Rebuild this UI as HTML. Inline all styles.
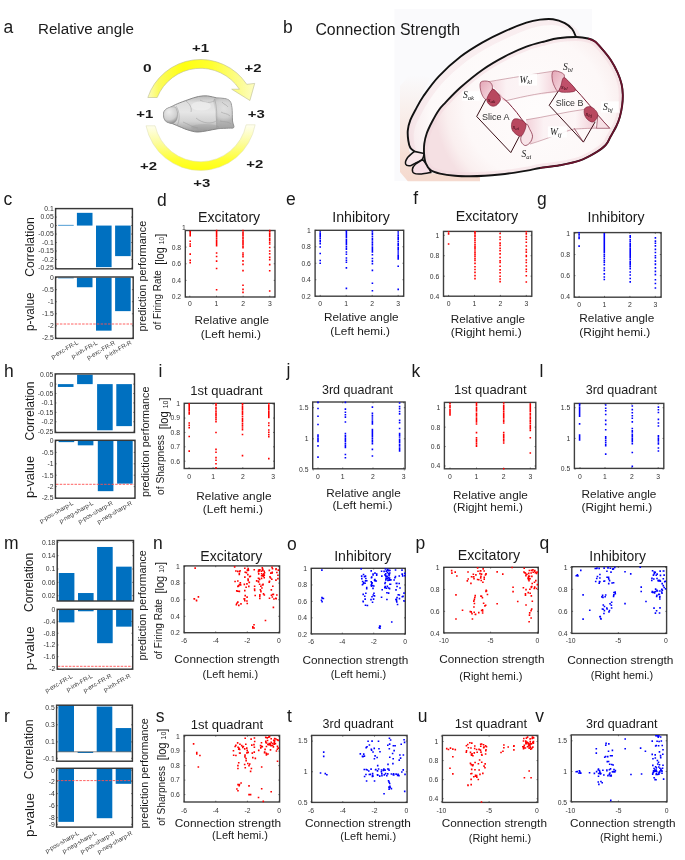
<!DOCTYPE html>
<html><head><meta charset="utf-8"><style>
html,body{margin:0;padding:0;background:#fff;}
body{width:685px;height:860px;overflow:hidden;}
svg{display:block;font-family:"Liberation Sans", sans-serif;will-change:transform;}
</style></head><body>
<svg width="685" height="860" viewBox="0 0 685 860" fill="#1a1a1a">
<rect x="58.10" y="224.89" width="15.60" height="0.68" fill="#0070c0"/>
<rect x="76.90" y="212.84" width="15.60" height="12.73" fill="#0070c0"/>
<rect x="96.00" y="225.57" width="15.60" height="41.58" fill="#0070c0"/>
<rect x="115.10" y="225.57" width="15.60" height="30.55" fill="#0070c0"/>
<rect x="55.60" y="208.60" width="76.80" height="60.20" fill="none" stroke="#383838" stroke-width="1.45"/>
<path d="M55.60 208.60h1.3M132.40 208.60h-1.3M55.60 217.09h1.3M132.40 217.09h-1.3M55.60 225.57h1.3M132.40 225.57h-1.3M55.60 234.06h1.3M132.40 234.06h-1.3M55.60 242.54h1.3M132.40 242.54h-1.3M55.60 251.03h1.3M132.40 251.03h-1.3M55.60 259.51h1.3M132.40 259.51h-1.3M55.60 268.00h1.3M132.40 268.00h-1.3" stroke="#2a2a2a" stroke-width="0.6" fill="none"/>
<text x="53.70" y="210.98" font-size="6.8" text-anchor="end" fill="#333">0.1</text>
<text x="53.70" y="219.47" font-size="6.8" text-anchor="end" fill="#333">0.05</text>
<text x="53.70" y="227.95" font-size="6.8" text-anchor="end" fill="#333">0</text>
<text x="53.70" y="236.44" font-size="6.8" text-anchor="end" fill="#333">-0.05</text>
<text x="53.70" y="244.92" font-size="6.8" text-anchor="end" fill="#333">-0.1</text>
<text x="53.70" y="253.41" font-size="6.8" text-anchor="end" fill="#333">-0.15</text>
<text x="53.70" y="261.89" font-size="6.8" text-anchor="end" fill="#333">-0.2</text>
<text x="53.70" y="270.38" font-size="6.8" text-anchor="end" fill="#333">-0.25</text>
<rect x="58.10" y="277.60" width="15.60" height="0.72" fill="#0070c0"/>
<rect x="76.90" y="277.60" width="15.60" height="9.65" fill="#0070c0"/>
<rect x="96.00" y="277.60" width="15.60" height="53.06" fill="#0070c0"/>
<rect x="115.10" y="277.60" width="15.60" height="33.53" fill="#0070c0"/>
<path d="M56.20 324.00H132.60" stroke="#ff5050" stroke-width="0.9" stroke-dasharray="2.5 1.2"/>
<rect x="55.60" y="277.00" width="77.60" height="61.40" fill="none" stroke="#383838" stroke-width="1.45"/>
<path d="M55.60 277.60h1.3M133.20 277.60h-1.3M55.60 289.66h1.3M133.20 289.66h-1.3M55.60 301.72h1.3M133.20 301.72h-1.3M55.60 313.78h1.3M133.20 313.78h-1.3M55.60 325.84h1.3M133.20 325.84h-1.3M55.60 337.90h1.3M133.20 337.90h-1.3" stroke="#2a2a2a" stroke-width="0.6" fill="none"/>
<text x="53.70" y="279.98" font-size="6.8" text-anchor="end" fill="#333">0</text>
<text x="53.70" y="292.04" font-size="6.8" text-anchor="end" fill="#333">-0.5</text>
<text x="53.70" y="304.10" font-size="6.8" text-anchor="end" fill="#333">-1</text>
<text x="53.70" y="316.16" font-size="6.8" text-anchor="end" fill="#333">-1.5</text>
<text x="53.70" y="328.22" font-size="6.8" text-anchor="end" fill="#333">-2</text>
<text x="53.70" y="340.28" font-size="6.8" text-anchor="end" fill="#333">-2.5</text>
<text x="78.80" y="343.70" font-size="6.1" text-anchor="end" fill="#333" transform="rotate(-30 78.80 343.70)">p-exc-FR-L</text>
<text x="98.00" y="344.10" font-size="6.1" text-anchor="end" fill="#333" transform="rotate(-30 98.00 344.10)">p-inh-FR-L</text>
<text x="115.60" y="344.10" font-size="6.1" text-anchor="end" fill="#333" transform="rotate(-30 115.60 344.10)">p-exc-FR-R</text>
<text x="132.20" y="343.70" font-size="6.1" text-anchor="end" fill="#333" transform="rotate(-30 132.20 343.70)">p-inh-FR-R</text>
<text x="34.20" y="247.00" font-size="12.5" text-anchor="middle" transform="rotate(-90 34.20 247.00)" textLength="59.5" lengthAdjust="spacingAndGlyphs">Correlation</text>
<text x="34.20" y="311.80" font-size="12.5" text-anchor="middle" transform="rotate(-90 34.20 311.80)" textLength="38.5" lengthAdjust="spacingAndGlyphs">p-value</text>
<rect x="57.90" y="384.12" width="15.60" height="2.82" fill="#0070c0"/>
<rect x="77.10" y="374.70" width="15.60" height="9.42" fill="#0070c0"/>
<rect x="97.10" y="384.12" width="15.60" height="46.14" fill="#0070c0"/>
<rect x="116.30" y="384.12" width="15.60" height="42.00" fill="#0070c0"/>
<rect x="55.20" y="373.90" width="79.30" height="58.60" fill="none" stroke="#383838" stroke-width="1.45"/>
<path d="M55.20 374.70h1.3M134.50 374.70h-1.3M55.20 384.12h1.3M134.50 384.12h-1.3M55.20 393.53h1.3M134.50 393.53h-1.3M55.20 402.95h1.3M134.50 402.95h-1.3M55.20 412.37h1.3M134.50 412.37h-1.3M55.20 421.78h1.3M134.50 421.78h-1.3M55.20 431.20h1.3M134.50 431.20h-1.3" stroke="#2a2a2a" stroke-width="0.6" fill="none"/>
<text x="53.30" y="377.08" font-size="6.8" text-anchor="end" fill="#333">0.05</text>
<text x="53.30" y="386.50" font-size="6.8" text-anchor="end" fill="#333">0</text>
<text x="53.30" y="395.91" font-size="6.8" text-anchor="end" fill="#333">-0.05</text>
<text x="53.30" y="405.33" font-size="6.8" text-anchor="end" fill="#333">-0.1</text>
<text x="53.30" y="414.75" font-size="6.8" text-anchor="end" fill="#333">-0.15</text>
<text x="53.30" y="424.16" font-size="6.8" text-anchor="end" fill="#333">-0.2</text>
<text x="53.30" y="433.58" font-size="6.8" text-anchor="end" fill="#333">-0.25</text>
<rect x="58.60" y="441.00" width="15.60" height="1.14" fill="#0070c0"/>
<rect x="77.80" y="441.00" width="15.60" height="4.33" fill="#0070c0"/>
<rect x="97.80" y="441.00" width="15.60" height="50.16" fill="#0070c0"/>
<rect x="117.10" y="441.00" width="15.60" height="42.64" fill="#0070c0"/>
<path d="M56.00 484.30H134.40" stroke="#ff5050" stroke-width="0.9" stroke-dasharray="2.5 1.2"/>
<rect x="55.40" y="440.30" width="79.60" height="57.90" fill="none" stroke="#383838" stroke-width="1.45"/>
<path d="M55.40 441.00h1.3M135.00 441.00h-1.3M55.40 452.40h1.3M135.00 452.40h-1.3M55.40 463.80h1.3M135.00 463.80h-1.3M55.40 475.20h1.3M135.00 475.20h-1.3M55.40 486.60h1.3M135.00 486.60h-1.3M55.40 498.00h1.3M135.00 498.00h-1.3" stroke="#2a2a2a" stroke-width="0.6" fill="none"/>
<text x="53.50" y="443.38" font-size="6.8" text-anchor="end" fill="#333">0</text>
<text x="53.50" y="454.78" font-size="6.8" text-anchor="end" fill="#333">-0.5</text>
<text x="53.50" y="466.18" font-size="6.8" text-anchor="end" fill="#333">-1</text>
<text x="53.50" y="477.58" font-size="6.8" text-anchor="end" fill="#333">-1.5</text>
<text x="53.50" y="488.98" font-size="6.8" text-anchor="end" fill="#333">-2</text>
<text x="53.50" y="500.38" font-size="6.8" text-anchor="end" fill="#333">-2.5</text>
<text x="73.80" y="504.30" font-size="6.1" text-anchor="end" fill="#333" transform="rotate(-30 73.80 504.30)">p-pos-sharp-L</text>
<text x="93.80" y="504.30" font-size="6.1" text-anchor="end" fill="#333" transform="rotate(-30 93.80 504.30)">p-neg-sharp-L</text>
<text x="113.30" y="504.30" font-size="6.1" text-anchor="end" fill="#333" transform="rotate(-30 113.30 504.30)">p-pos-sharp-R</text>
<text x="132.50" y="504.30" font-size="6.1" text-anchor="end" fill="#333" transform="rotate(-30 132.50 504.30)">p-neg-sharp-R</text>
<text x="33.60" y="411.00" font-size="12.5" text-anchor="middle" transform="rotate(-90 33.60 411.00)" textLength="59.0" lengthAdjust="spacingAndGlyphs">Correlation</text>
<text x="34.00" y="477.00" font-size="12.5" text-anchor="middle" transform="rotate(-90 34.00 477.00)" textLength="42.0" lengthAdjust="spacingAndGlyphs">p-value</text>
<rect x="58.80" y="573.00" width="15.60" height="28.00" fill="#0070c0"/>
<rect x="78.00" y="593.03" width="15.60" height="7.97" fill="#0070c0"/>
<rect x="97.10" y="546.97" width="15.60" height="54.03" fill="#0070c0"/>
<rect x="116.10" y="566.66" width="15.60" height="34.34" fill="#0070c0"/>
<rect x="57.20" y="540.50" width="76.30" height="60.50" fill="none" stroke="#383838" stroke-width="1.45"/>
<path d="M57.20 542.30h1.3M133.50 542.30h-1.3M57.20 555.65h1.3M133.50 555.65h-1.3M57.20 569.00h1.3M133.50 569.00h-1.3M57.20 582.35h1.3M133.50 582.35h-1.3M57.20 595.70h1.3M133.50 595.70h-1.3" stroke="#2a2a2a" stroke-width="0.6" fill="none"/>
<text x="55.30" y="544.68" font-size="6.8" text-anchor="end" fill="#333">0.18</text>
<text x="55.30" y="558.03" font-size="6.8" text-anchor="end" fill="#333">0.14</text>
<text x="55.30" y="571.38" font-size="6.8" text-anchor="end" fill="#333">0.1</text>
<text x="55.30" y="584.73" font-size="6.8" text-anchor="end" fill="#333">0.06</text>
<text x="55.30" y="598.08" font-size="6.8" text-anchor="end" fill="#333">0.02</text>
<rect x="58.80" y="609.80" width="15.60" height="12.60" fill="#0070c0"/>
<rect x="78.00" y="609.80" width="15.60" height="1.47" fill="#0070c0"/>
<rect x="97.10" y="609.80" width="15.60" height="33.40" fill="#0070c0"/>
<rect x="116.10" y="609.80" width="15.60" height="16.85" fill="#0070c0"/>
<path d="M57.80 666.30H132.10" stroke="#ff5050" stroke-width="0.9" stroke-dasharray="2.5 1.2"/>
<rect x="57.20" y="609.30" width="75.50" height="59.90" fill="none" stroke="#383838" stroke-width="1.45"/>
<path d="M57.20 609.80h1.3M132.70 609.80h-1.3M57.20 621.52h1.3M132.70 621.52h-1.3M57.20 633.24h1.3M132.70 633.24h-1.3M57.20 644.96h1.3M132.70 644.96h-1.3M57.20 656.68h1.3M132.70 656.68h-1.3M57.20 668.40h1.3M132.70 668.40h-1.3" stroke="#2a2a2a" stroke-width="0.6" fill="none"/>
<text x="55.30" y="612.18" font-size="6.8" text-anchor="end" fill="#333">0</text>
<text x="55.30" y="623.90" font-size="6.8" text-anchor="end" fill="#333">-0.4</text>
<text x="55.30" y="635.62" font-size="6.8" text-anchor="end" fill="#333">-0.8</text>
<text x="55.30" y="647.34" font-size="6.8" text-anchor="end" fill="#333">-1.2</text>
<text x="55.30" y="659.06" font-size="6.8" text-anchor="end" fill="#333">-1.6</text>
<text x="55.30" y="670.78" font-size="6.8" text-anchor="end" fill="#333">-2</text>
<text x="72.90" y="677.60" font-size="6.1" text-anchor="end" fill="#333" transform="rotate(-30 72.90 677.60)">p-exc-FR-L</text>
<text x="93.00" y="677.20" font-size="6.1" text-anchor="end" fill="#333" transform="rotate(-30 93.00 677.20)">p-inh-FR-L</text>
<text x="112.00" y="677.00" font-size="6.1" text-anchor="end" fill="#333" transform="rotate(-30 112.00 677.00)">p-exc-FR-R</text>
<text x="131.00" y="677.00" font-size="6.1" text-anchor="end" fill="#333" transform="rotate(-30 131.00 677.00)">p-inh-FR-R</text>
<text x="32.80" y="582.40" font-size="12.5" text-anchor="middle" transform="rotate(-90 32.80 582.40)" textLength="59.2" lengthAdjust="spacingAndGlyphs">Correlation</text>
<text x="33.60" y="648.30" font-size="12.5" text-anchor="middle" transform="rotate(-90 33.60 648.30)" textLength="43.9" lengthAdjust="spacingAndGlyphs">p-value</text>
<rect x="58.40" y="705.20" width="15.60" height="46.60" fill="#0070c0"/>
<rect x="77.60" y="751.80" width="15.60" height="1.16" fill="#0070c0"/>
<rect x="96.70" y="706.55" width="15.60" height="45.25" fill="#0070c0"/>
<rect x="115.70" y="728.06" width="15.60" height="23.74" fill="#0070c0"/>
<path d="M56.60 751.80H132.40" stroke="#555" stroke-width="0.7"/>
<rect x="56.60" y="705.20" width="75.80" height="56.00" fill="none" stroke="#383838" stroke-width="1.45"/>
<path d="M56.60 707.80h1.3M132.40 707.80h-1.3M56.60 724.80h1.3M132.40 724.80h-1.3M56.60 741.90h1.3M132.40 741.90h-1.3M56.60 758.30h1.3M132.40 758.30h-1.3" stroke="#2a2a2a" stroke-width="0.6" fill="none"/>
<text x="54.70" y="710.18" font-size="6.8" text-anchor="end" fill="#333">0.5</text>
<text x="54.70" y="727.18" font-size="6.8" text-anchor="end" fill="#333">0.3</text>
<text x="54.70" y="744.28" font-size="6.8" text-anchor="end" fill="#333">0.1</text>
<text x="54.70" y="760.68" font-size="6.8" text-anchor="end" fill="#333">-0.1</text>
<rect x="58.40" y="768.90" width="15.60" height="52.96" fill="#0070c0"/>
<rect x="96.70" y="768.90" width="15.60" height="49.31" fill="#0070c0"/>
<rect x="115.70" y="768.90" width="15.60" height="14.91" fill="#0070c0"/>
<path d="M57.20 780.60H131.80" stroke="#ff5050" stroke-width="0.9" stroke-dasharray="2.5 1.2"/>
<rect x="56.60" y="768.30" width="75.80" height="58.80" fill="none" stroke="#383838" stroke-width="1.45"/>
<path d="M56.60 770.20h1.3M132.40 770.20h-1.3M56.60 781.30h1.3M132.40 781.30h-1.3M56.60 793.60h1.3M132.40 793.60h-1.3M56.60 805.70h1.3M132.40 805.70h-1.3M56.60 817.60h1.3M132.40 817.60h-1.3M56.60 824.30h1.3M132.40 824.30h-1.3" stroke="#2a2a2a" stroke-width="0.6" fill="none"/>
<text x="54.70" y="772.58" font-size="6.8" text-anchor="end" fill="#333">0</text>
<text x="54.70" y="783.68" font-size="6.8" text-anchor="end" fill="#333">-2</text>
<text x="54.70" y="795.98" font-size="6.8" text-anchor="end" fill="#333">-4</text>
<text x="54.70" y="808.08" font-size="6.8" text-anchor="end" fill="#333">-6</text>
<text x="54.70" y="819.98" font-size="6.8" text-anchor="end" fill="#333">-8</text>
<text x="54.70" y="826.68" font-size="6.8" text-anchor="end" fill="#333">-9</text>
<text x="79.50" y="834.30" font-size="6.1" text-anchor="end" fill="#333" transform="rotate(-30 79.50 834.30)">p-pos-sharp-L</text>
<text x="97.00" y="834.30" font-size="6.1" text-anchor="end" fill="#333" transform="rotate(-30 97.00 834.30)">p-neg-sharp-L</text>
<text x="115.50" y="834.30" font-size="6.1" text-anchor="end" fill="#333" transform="rotate(-30 115.50 834.30)">p-pos-sharp-R</text>
<text x="132.90" y="834.30" font-size="6.1" text-anchor="end" fill="#333" transform="rotate(-30 132.90 834.30)">p-neg-sharp-R</text>
<text x="32.80" y="749.40" font-size="12.5" text-anchor="middle" transform="rotate(-90 32.80 749.40)" textLength="59.9" lengthAdjust="spacingAndGlyphs">Correlation</text>
<text x="34.20" y="815.00" font-size="12.5" text-anchor="middle" transform="rotate(-90 34.20 815.00)" textLength="44.1" lengthAdjust="spacingAndGlyphs">p-value</text>
<text x="146.40" y="276.10" font-size="11" text-anchor="middle" transform="rotate(-90 146.40 276.10)" textLength="110.6" lengthAdjust="spacingAndGlyphs">prediction performance</text>
<text x="160.90" y="281.80" font-size="11" text-anchor="middle" transform="rotate(-90 160.90 281.80)" textLength="96.3" lengthAdjust="spacingAndGlyphs" style="white-space:pre">of Firing Rate  <tspan dy="3.3" font-size="12">[log </tspan><tspan font-size="7.5">10</tspan><tspan font-size="12">]</tspan></text>
<text x="149.40" y="441.80" font-size="11" text-anchor="middle" transform="rotate(-90 149.40 441.80)" textLength="110.6" lengthAdjust="spacingAndGlyphs">prediction performance</text>
<text x="164.40" y="446.20" font-size="11" text-anchor="middle" transform="rotate(-90 164.40 446.20)" textLength="97.4" lengthAdjust="spacingAndGlyphs" style="white-space:pre">of Sharpness  <tspan dy="3.3" font-size="12">[log </tspan><tspan font-size="7.5">10</tspan><tspan font-size="12">]</tspan></text>
<text x="146.30" y="605.40" font-size="11" text-anchor="middle" transform="rotate(-90 146.30 605.40)" textLength="110.4" lengthAdjust="spacingAndGlyphs">prediction performance</text>
<text x="162.00" y="610.70" font-size="11" text-anchor="middle" transform="rotate(-90 162.00 610.70)" textLength="97.3" lengthAdjust="spacingAndGlyphs" style="white-space:pre">of Firing Rate  <tspan dy="2.5" font-size="12">[log </tspan><tspan font-size="7.5">10</tspan><tspan font-size="12">]</tspan></text>
<text x="148.00" y="773.30" font-size="11" text-anchor="middle" transform="rotate(-90 148.00 773.30)" textLength="110.3" lengthAdjust="spacingAndGlyphs">prediction performance</text>
<text x="165.30" y="777.20" font-size="11" text-anchor="middle" transform="rotate(-90 165.30 777.20)" textLength="97.2" lengthAdjust="spacingAndGlyphs" style="white-space:pre">of Sharpness  <tspan dy="0.3" font-size="12">[log </tspan><tspan font-size="7.5">10</tspan><tspan font-size="12">]</tspan></text>
<rect x="185.30" y="230.50" width="89.70" height="66.50" fill="none" stroke="#404040" stroke-width="1.4"/>
<path d="M189.80 297.00v-1.3M189.80 230.50v1.3M216.47 297.00v-1.3M216.47 230.50v1.3M243.14 297.00v-1.3M243.14 230.50v1.3M269.81 297.00v-1.3M269.81 230.50v1.3M185.30 247.12h1.3M275.00 247.12h-1.3M185.30 263.75h1.3M275.00 263.75h-1.3M185.30 280.38h1.3M275.00 280.38h-1.3M185.30 297.00h1.3M275.00 297.00h-1.3" stroke="#2a2a2a" stroke-width="0.6" fill="none"/>
<path d="M189.40 230.67h1.6v1.6h-1.6zM189.40 232.02h1.6v1.6h-1.6zM189.40 233.28h1.6v1.6h-1.6zM189.40 234.84h1.6v1.6h-1.6zM189.40 240.39h1.6v1.6h-1.6zM189.40 243.17h1.6v1.6h-1.6zM189.40 245.36h1.6v1.6h-1.6zM189.40 253.30h1.6v1.6h-1.6zM189.40 259.41h1.6v1.6h-1.6zM189.40 261.83h1.6v1.6h-1.6zM215.80 229.70h1.6v1.6h-1.6zM215.80 231.29h1.6v1.6h-1.6zM215.80 232.53h1.6v1.6h-1.6zM215.80 234.02h1.6v1.6h-1.6zM215.80 235.33h1.6v1.6h-1.6zM215.80 237.35h1.6v1.6h-1.6zM215.80 239.13h1.6v1.6h-1.6zM215.80 240.70h1.6v1.6h-1.6zM215.80 241.96h1.6v1.6h-1.6zM215.80 243.36h1.6v1.6h-1.6zM215.80 244.98h1.6v1.6h-1.6zM215.80 252.19h1.6v1.6h-1.6zM215.80 255.66h1.6v1.6h-1.6zM215.80 260.36h1.6v1.6h-1.6zM215.80 267.74h1.6v1.6h-1.6zM215.80 288.98h1.6v1.6h-1.6zM242.20 229.70h1.6v1.6h-1.6zM242.20 231.78h1.6v1.6h-1.6zM242.20 233.27h1.6v1.6h-1.6zM242.20 234.58h1.6v1.6h-1.6zM242.20 236.54h1.6v1.6h-1.6zM242.20 238.23h1.6v1.6h-1.6zM242.20 240.10h1.6v1.6h-1.6zM242.20 241.87h1.6v1.6h-1.6zM242.20 243.38h1.6v1.6h-1.6zM242.20 245.18h1.6v1.6h-1.6zM242.20 246.84h1.6v1.6h-1.6zM242.20 252.19h1.6v1.6h-1.6zM242.20 254.06h1.6v1.6h-1.6zM242.20 255.96h1.6v1.6h-1.6zM242.20 260.10h1.6v1.6h-1.6zM242.20 263.57h1.6v1.6h-1.6zM242.20 269.82h1.6v1.6h-1.6zM242.20 284.40h1.6v1.6h-1.6zM242.20 288.56h1.6v1.6h-1.6zM242.20 291.62h1.6v1.6h-1.6zM268.90 229.70h1.6v1.6h-1.6zM268.90 231.18h1.6v1.6h-1.6zM268.90 233.05h1.6v1.6h-1.6zM268.90 234.71h1.6v1.6h-1.6zM268.90 236.02h1.6v1.6h-1.6zM268.90 238.00h1.6v1.6h-1.6zM268.90 239.44h1.6v1.6h-1.6zM268.90 241.52h1.6v1.6h-1.6zM268.90 243.17h1.6v1.6h-1.6zM268.90 246.64h1.6v1.6h-1.6zM268.90 250.17h1.6v1.6h-1.6zM268.90 252.92h1.6v1.6h-1.6zM268.90 256.49h1.6v1.6h-1.6zM268.90 258.78h1.6v1.6h-1.6zM268.90 263.85h1.6v1.6h-1.6zM268.90 269.96h1.6v1.6h-1.6zM268.90 290.23h1.6v1.6h-1.6z" fill="#ff0000"/>
<text x="181.10" y="249.50" font-size="6.8" text-anchor="end" fill="#333">0.8</text>
<text x="181.10" y="266.13" font-size="6.8" text-anchor="end" fill="#333">0.6</text>
<text x="181.10" y="282.75" font-size="6.8" text-anchor="end" fill="#333">0.4</text>
<text x="181.10" y="299.38" font-size="6.8" text-anchor="end" fill="#333">0.2</text>
<text x="189.80" y="306.38" font-size="6.8" text-anchor="middle" fill="#333">0</text>
<text x="216.47" y="306.38" font-size="6.8" text-anchor="middle" fill="#333">1</text>
<text x="243.14" y="306.38" font-size="6.8" text-anchor="middle" fill="#333">2</text>
<text x="269.81" y="306.38" font-size="6.8" text-anchor="middle" fill="#333">3</text>
<text x="229.10" y="222.00" font-size="14" text-anchor="middle" textLength="62.2" lengthAdjust="spacingAndGlyphs">Excitatory</text>
<text x="231.80" y="323.80" font-size="11.8" text-anchor="middle" textLength="74.5" lengthAdjust="spacingAndGlyphs">Relative angle</text>
<text x="230.90" y="337.60" font-size="11.8" text-anchor="middle" textLength="60.4" lengthAdjust="spacingAndGlyphs">(Left hemi.)</text>
<text x="185.70" y="229.80" font-size="6.8" text-anchor="end" fill="#333">1</text>
<rect x="315.10" y="230.30" width="88.60" height="65.90" fill="none" stroke="#404040" stroke-width="1.4"/>
<path d="M320.20 296.20v-1.3M320.20 230.30v1.3M346.20 296.20v-1.3M346.20 230.30v1.3M372.20 296.20v-1.3M372.20 230.30v1.3M398.20 296.20v-1.3M398.20 230.30v1.3M315.10 230.30h1.3M403.70 230.30h-1.3M315.10 246.78h1.3M403.70 246.78h-1.3M315.10 263.25h1.3M403.70 263.25h-1.3M315.10 279.72h1.3M403.70 279.72h-1.3M315.10 296.20h1.3M403.70 296.20h-1.3" stroke="#2a2a2a" stroke-width="0.6" fill="none"/>
<path d="M319.40 231.21h1.6v1.6h-1.6zM319.40 232.89h1.6v1.6h-1.6zM319.40 234.35h1.6v1.6h-1.6zM319.40 235.97h1.6v1.6h-1.6zM319.40 237.74h1.6v1.6h-1.6zM319.40 239.63h1.6v1.6h-1.6zM319.40 240.70h1.6v1.6h-1.6zM319.40 242.83h1.6v1.6h-1.6zM319.40 246.22h1.6v1.6h-1.6zM319.40 252.67h1.6v1.6h-1.6zM319.40 259.70h1.6v1.6h-1.6zM319.40 262.42h1.6v1.6h-1.6zM345.60 230.26h1.6v1.6h-1.6zM345.60 231.52h1.6v1.6h-1.6zM345.60 232.87h1.6v1.6h-1.6zM345.60 234.12h1.6v1.6h-1.6zM345.60 235.46h1.6v1.6h-1.6zM345.60 237.02h1.6v1.6h-1.6zM345.60 239.10h1.6v1.6h-1.6zM345.60 240.45h1.6v1.6h-1.6zM345.60 241.99h1.6v1.6h-1.6zM345.60 243.31h1.6v1.6h-1.6zM345.60 245.51h1.6v1.6h-1.6zM345.60 247.19h1.6v1.6h-1.6zM345.60 248.49h1.6v1.6h-1.6zM345.60 251.15h1.6v1.6h-1.6zM345.60 253.46h1.6v1.6h-1.6zM345.60 257.15h1.6v1.6h-1.6zM345.60 259.43h1.6v1.6h-1.6zM345.60 261.51h1.6v1.6h-1.6zM345.60 267.10h1.6v1.6h-1.6zM345.60 287.61h1.6v1.6h-1.6zM371.60 230.26h1.6v1.6h-1.6zM371.60 232.16h1.6v1.6h-1.6zM371.60 233.72h1.6v1.6h-1.6zM371.60 235.70h1.6v1.6h-1.6zM371.60 237.69h1.6v1.6h-1.6zM371.60 239.10h1.6v1.6h-1.6zM371.60 241.30h1.6v1.6h-1.6zM371.60 243.31h1.6v1.6h-1.6zM371.60 245.25h1.6v1.6h-1.6zM371.60 246.97h1.6v1.6h-1.6zM371.60 248.19h1.6v1.6h-1.6zM371.60 249.67h1.6v1.6h-1.6zM371.60 251.15h1.6v1.6h-1.6zM371.60 253.96h1.6v1.6h-1.6zM371.60 257.71h1.6v1.6h-1.6zM371.60 260.37h1.6v1.6h-1.6zM371.60 262.80h1.6v1.6h-1.6zM371.60 269.57h1.6v1.6h-1.6zM371.60 282.49h1.6v1.6h-1.6zM371.60 289.93h1.6v1.6h-1.6zM397.40 231.21h1.6v1.6h-1.6zM397.40 233.21h1.6v1.6h-1.6zM397.40 235.08h1.6v1.6h-1.6zM397.40 237.07h1.6v1.6h-1.6zM397.40 238.74h1.6v1.6h-1.6zM397.40 240.74h1.6v1.6h-1.6zM397.40 242.75h1.6v1.6h-1.6zM397.40 244.34h1.6v1.6h-1.6zM397.40 246.50h1.6v1.6h-1.6zM397.40 247.86h1.6v1.6h-1.6zM397.40 249.20h1.6v1.6h-1.6zM397.40 251.22h1.6v1.6h-1.6zM397.40 253.25h1.6v1.6h-1.6zM397.40 255.11h1.6v1.6h-1.6zM397.40 256.86h1.6v1.6h-1.6zM397.40 258.06h1.6v1.6h-1.6zM397.40 265.39h1.6v1.6h-1.6zM397.40 288.56h1.6v1.6h-1.6z" fill="#0000ff"/>
<text x="310.90" y="232.68" font-size="6.8" text-anchor="end" fill="#333">1</text>
<text x="310.90" y="249.16" font-size="6.8" text-anchor="end" fill="#333">0.8</text>
<text x="310.90" y="265.63" font-size="6.8" text-anchor="end" fill="#333">0.6</text>
<text x="310.90" y="282.10" font-size="6.8" text-anchor="end" fill="#333">0.4</text>
<text x="310.90" y="298.58" font-size="6.8" text-anchor="end" fill="#333">0.2</text>
<text x="320.20" y="306.38" font-size="6.8" text-anchor="middle" fill="#333">0</text>
<text x="346.20" y="306.38" font-size="6.8" text-anchor="middle" fill="#333">1</text>
<text x="372.20" y="306.38" font-size="6.8" text-anchor="middle" fill="#333">2</text>
<text x="398.20" y="306.38" font-size="6.8" text-anchor="middle" fill="#333">3</text>
<text x="361.00" y="221.60" font-size="14" text-anchor="middle" textLength="57.5" lengthAdjust="spacingAndGlyphs">Inhibitory</text>
<text x="361.30" y="321.20" font-size="11.8" text-anchor="middle" textLength="74.6" lengthAdjust="spacingAndGlyphs">Relative angle</text>
<text x="360.20" y="334.60" font-size="11.8" text-anchor="middle" textLength="59.7" lengthAdjust="spacingAndGlyphs">(Left hemi.)</text>
<rect x="443.50" y="231.40" width="88.30" height="64.80" fill="none" stroke="#404040" stroke-width="1.4"/>
<path d="M448.60 296.20v-1.3M448.60 231.40v1.3M474.50 296.20v-1.3M474.50 231.40v1.3M500.40 296.20v-1.3M500.40 231.40v1.3M526.30 296.20v-1.3M526.30 231.40v1.3M443.50 235.30h1.3M531.80 235.30h-1.3M443.50 255.73h1.3M531.80 255.73h-1.3M443.50 276.17h1.3M531.80 276.17h-1.3M443.50 296.60h1.3M531.80 296.60h-1.3" stroke="#2a2a2a" stroke-width="0.6" fill="none"/>
<path d="M447.80 231.01h1.6v1.6h-1.6zM447.80 233.09h1.6v1.6h-1.6zM447.80 243.27h1.6v1.6h-1.6zM474.20 231.01h1.6v1.6h-1.6zM474.20 232.50h1.6v1.6h-1.6zM474.20 234.29h1.6v1.6h-1.6zM474.20 235.90h1.6v1.6h-1.6zM474.20 238.02h1.6v1.6h-1.6zM474.20 239.68h1.6v1.6h-1.6zM474.20 241.79h1.6v1.6h-1.6zM474.20 243.92h1.6v1.6h-1.6zM474.20 245.65h1.6v1.6h-1.6zM474.20 246.86h1.6v1.6h-1.6zM474.20 248.24h1.6v1.6h-1.6zM474.20 250.24h1.6v1.6h-1.6zM474.20 251.91h1.6v1.6h-1.6zM474.20 253.67h1.6v1.6h-1.6zM474.20 255.39h1.6v1.6h-1.6zM474.20 257.38h1.6v1.6h-1.6zM474.20 259.14h1.6v1.6h-1.6zM474.20 259.63h1.6v1.6h-1.6zM474.20 262.54h1.6v1.6h-1.6zM474.20 265.89h1.6v1.6h-1.6zM474.20 268.69h1.6v1.6h-1.6zM474.20 271.60h1.6v1.6h-1.6zM474.20 274.84h1.6v1.6h-1.6zM474.20 277.80h1.6v1.6h-1.6zM499.30 232.64h1.6v1.6h-1.6zM499.30 236.20h1.6v1.6h-1.6zM499.30 238.68h1.6v1.6h-1.6zM499.30 242.35h1.6v1.6h-1.6zM499.30 244.62h1.6v1.6h-1.6zM499.30 247.42h1.6v1.6h-1.6zM499.30 249.87h1.6v1.6h-1.6zM499.30 253.06h1.6v1.6h-1.6zM499.30 256.65h1.6v1.6h-1.6zM499.30 259.93h1.6v1.6h-1.6zM499.30 261.67h1.6v1.6h-1.6zM499.30 265.38h1.6v1.6h-1.6zM499.30 269.07h1.6v1.6h-1.6zM499.30 271.95h1.6v1.6h-1.6zM499.30 275.43h1.6v1.6h-1.6zM499.30 278.21h1.6v1.6h-1.6zM499.30 280.83h1.6v1.6h-1.6zM525.50 231.01h1.6v1.6h-1.6zM525.50 233.07h1.6v1.6h-1.6zM525.50 235.87h1.6v1.6h-1.6zM525.50 238.48h1.6v1.6h-1.6zM525.50 241.40h1.6v1.6h-1.6zM525.50 245.14h1.6v1.6h-1.6zM525.50 248.86h1.6v1.6h-1.6zM525.50 251.35h1.6v1.6h-1.6zM525.50 254.74h1.6v1.6h-1.6zM525.50 255.54h1.6v1.6h-1.6zM525.50 259.15h1.6v1.6h-1.6zM525.50 261.63h1.6v1.6h-1.6zM525.50 265.26h1.6v1.6h-1.6zM525.50 268.51h1.6v1.6h-1.6zM525.50 270.64h1.6v1.6h-1.6zM525.50 274.96h1.6v1.6h-1.6zM525.50 281.27h1.6v1.6h-1.6z" fill="#ff0000"/>
<text x="439.30" y="237.68" font-size="6.8" text-anchor="end" fill="#333">1</text>
<text x="439.30" y="258.11" font-size="6.8" text-anchor="end" fill="#333">0.8</text>
<text x="439.30" y="278.55" font-size="6.8" text-anchor="end" fill="#333">0.6</text>
<text x="439.30" y="298.98" font-size="6.8" text-anchor="end" fill="#333">0.4</text>
<text x="448.60" y="306.38" font-size="6.8" text-anchor="middle" fill="#333">0</text>
<text x="474.50" y="306.38" font-size="6.8" text-anchor="middle" fill="#333">1</text>
<text x="500.40" y="306.38" font-size="6.8" text-anchor="middle" fill="#333">2</text>
<text x="526.30" y="306.38" font-size="6.8" text-anchor="middle" fill="#333">3</text>
<text x="486.90" y="221.20" font-size="14" text-anchor="middle" textLength="62.5" lengthAdjust="spacingAndGlyphs">Excitatory</text>
<text x="487.90" y="322.70" font-size="11.8" text-anchor="middle" textLength="74.3" lengthAdjust="spacingAndGlyphs">Relative angle</text>
<text x="486.20" y="336.00" font-size="11.8" text-anchor="middle" textLength="70.9" lengthAdjust="spacingAndGlyphs">(Rigjht hemi.)</text>
<rect x="574.20" y="232.60" width="86.90" height="64.60" fill="none" stroke="#404040" stroke-width="1.4"/>
<path d="M579.10 297.20v-1.3M579.10 232.60v1.3M604.50 297.20v-1.3M604.50 232.60v1.3M629.90 297.20v-1.3M629.90 232.60v1.3M655.30 297.20v-1.3M655.30 232.60v1.3M574.20 233.40h1.3M661.10 233.40h-1.3M574.20 254.53h1.3M661.10 254.53h-1.3M574.20 275.67h1.3M661.10 275.67h-1.3M574.20 296.80h1.3M661.10 296.80h-1.3" stroke="#2a2a2a" stroke-width="0.6" fill="none"/>
<path d="M578.30 232.00h1.6v1.6h-1.6zM578.30 234.07h1.6v1.6h-1.6zM578.30 236.14h1.6v1.6h-1.6zM578.30 237.67h1.6v1.6h-1.6zM578.30 245.29h1.6v1.6h-1.6zM603.50 233.03h1.6v1.6h-1.6zM603.50 234.35h1.6v1.6h-1.6zM603.50 235.78h1.6v1.6h-1.6zM603.50 237.14h1.6v1.6h-1.6zM603.50 238.53h1.6v1.6h-1.6zM603.50 240.03h1.6v1.6h-1.6zM603.50 241.52h1.6v1.6h-1.6zM603.50 242.89h1.6v1.6h-1.6zM603.50 244.10h1.6v1.6h-1.6zM603.50 245.30h1.6v1.6h-1.6zM603.50 247.06h1.6v1.6h-1.6zM603.50 248.73h1.6v1.6h-1.6zM603.50 250.03h1.6v1.6h-1.6zM603.50 251.66h1.6v1.6h-1.6zM603.50 253.70h1.6v1.6h-1.6zM603.50 255.41h1.6v1.6h-1.6zM603.50 257.60h1.6v1.6h-1.6zM603.50 259.64h1.6v1.6h-1.6zM603.50 261.48h1.6v1.6h-1.6zM603.50 261.65h1.6v1.6h-1.6zM603.50 263.90h1.6v1.6h-1.6zM603.50 267.22h1.6v1.6h-1.6zM603.50 269.54h1.6v1.6h-1.6zM603.50 273.03h1.6v1.6h-1.6zM603.50 276.23h1.6v1.6h-1.6zM603.50 278.68h1.6v1.6h-1.6zM629.40 235.07h1.6v1.6h-1.6zM629.40 236.72h1.6v1.6h-1.6zM629.40 238.89h1.6v1.6h-1.6zM629.40 240.63h1.6v1.6h-1.6zM629.40 242.81h1.6v1.6h-1.6zM629.40 244.36h1.6v1.6h-1.6zM629.40 245.94h1.6v1.6h-1.6zM629.40 247.65h1.6v1.6h-1.6zM629.40 249.35h1.6v1.6h-1.6zM629.40 250.81h1.6v1.6h-1.6zM629.40 252.41h1.6v1.6h-1.6zM629.40 253.62h1.6v1.6h-1.6zM629.40 255.05h1.6v1.6h-1.6zM629.40 256.78h1.6v1.6h-1.6zM629.40 258.64h1.6v1.6h-1.6zM629.40 260.72h1.6v1.6h-1.6zM629.40 262.25h1.6v1.6h-1.6zM629.40 263.59h1.6v1.6h-1.6zM629.40 265.44h1.6v1.6h-1.6zM629.40 267.48h1.6v1.6h-1.6zM629.40 267.78h1.6v1.6h-1.6zM629.40 271.22h1.6v1.6h-1.6zM629.40 274.16h1.6v1.6h-1.6zM629.40 277.65h1.6v1.6h-1.6zM629.40 281.12h1.6v1.6h-1.6zM654.60 237.12h1.6v1.6h-1.6zM654.60 240.35h1.6v1.6h-1.6zM654.60 242.44h1.6v1.6h-1.6zM654.60 245.09h1.6v1.6h-1.6zM654.60 248.58h1.6v1.6h-1.6zM654.60 251.70h1.6v1.6h-1.6zM654.60 254.91h1.6v1.6h-1.6zM654.60 256.95h1.6v1.6h-1.6zM654.60 260.28h1.6v1.6h-1.6zM654.60 263.24h1.6v1.6h-1.6zM654.60 263.69h1.6v1.6h-1.6zM654.60 267.10h1.6v1.6h-1.6zM654.60 270.53h1.6v1.6h-1.6zM654.60 273.83h1.6v1.6h-1.6zM654.60 278.97h1.6v1.6h-1.6zM654.60 282.69h1.6v1.6h-1.6zM654.60 287.13h1.6v1.6h-1.6z" fill="#0000ff"/>
<text x="570.00" y="235.78" font-size="6.8" text-anchor="end" fill="#333">1</text>
<text x="570.00" y="256.91" font-size="6.8" text-anchor="end" fill="#333">0.8</text>
<text x="570.00" y="278.05" font-size="6.8" text-anchor="end" fill="#333">0.6</text>
<text x="570.00" y="299.18" font-size="6.8" text-anchor="end" fill="#333">0.4</text>
<text x="579.10" y="306.88" font-size="6.8" text-anchor="middle" fill="#333">0</text>
<text x="604.50" y="306.88" font-size="6.8" text-anchor="middle" fill="#333">1</text>
<text x="629.90" y="306.88" font-size="6.8" text-anchor="middle" fill="#333">2</text>
<text x="655.30" y="306.88" font-size="6.8" text-anchor="middle" fill="#333">3</text>
<text x="616.00" y="222.00" font-size="14" text-anchor="middle" textLength="57.0" lengthAdjust="spacingAndGlyphs">Inhibitory</text>
<text x="616.80" y="321.70" font-size="11.8" text-anchor="middle" textLength="75.0" lengthAdjust="spacingAndGlyphs">Relative angle</text>
<text x="614.80" y="336.00" font-size="11.8" text-anchor="middle" textLength="71.0" lengthAdjust="spacingAndGlyphs">(Rigjht hemi.)</text>
<rect x="184.20" y="403.30" width="90.10" height="65.20" fill="none" stroke="#404040" stroke-width="1.4"/>
<path d="M189.10 468.50v-1.3M189.10 403.30v1.3M213.10 468.50v-1.3M213.10 403.30v1.3M242.80 468.50v-1.3M242.80 403.30v1.3M273.10 468.50v-1.3M273.10 403.30v1.3M184.20 403.70h1.3M274.30 403.70h-1.3M184.20 418.07h1.3M274.30 418.07h-1.3M184.20 432.45h1.3M274.30 432.45h-1.3M184.20 446.82h1.3M274.30 446.82h-1.3M184.20 461.20h1.3M274.30 461.20h-1.3" stroke="#2a2a2a" stroke-width="0.6" fill="none"/>
<path d="M188.40 402.90h1.6v1.6h-1.6zM188.40 404.16h1.6v1.6h-1.6zM188.40 405.61h1.6v1.6h-1.6zM188.40 407.11h1.6v1.6h-1.6zM188.40 408.32h1.6v1.6h-1.6zM188.40 409.78h1.6v1.6h-1.6zM188.40 411.68h1.6v1.6h-1.6zM188.40 413.16h1.6v1.6h-1.6zM188.40 422.26h1.6v1.6h-1.6zM188.40 424.49h1.6v1.6h-1.6zM188.40 426.87h1.6v1.6h-1.6zM188.40 435.69h1.6v1.6h-1.6zM188.40 450.31h1.6v1.6h-1.6zM215.20 402.90h1.6v1.6h-1.6zM215.20 404.55h1.6v1.6h-1.6zM215.20 406.73h1.6v1.6h-1.6zM215.20 408.19h1.6v1.6h-1.6zM215.20 410.35h1.6v1.6h-1.6zM215.20 412.13h1.6v1.6h-1.6zM215.20 413.86h1.6v1.6h-1.6zM215.20 415.18h1.6v1.6h-1.6zM215.20 416.89h1.6v1.6h-1.6zM215.20 418.80h1.6v1.6h-1.6zM215.20 420.90h1.6v1.6h-1.6zM215.20 431.74h1.6v1.6h-1.6zM215.20 448.54h1.6v1.6h-1.6zM215.20 451.42h1.6v1.6h-1.6zM215.20 456.83h1.6v1.6h-1.6zM215.20 459.46h1.6v1.6h-1.6zM215.20 462.95h1.6v1.6h-1.6zM215.20 467.11h1.6v1.6h-1.6zM241.70 402.90h1.6v1.6h-1.6zM241.70 404.21h1.6v1.6h-1.6zM241.70 406.12h1.6v1.6h-1.6zM241.70 407.61h1.6v1.6h-1.6zM241.70 409.20h1.6v1.6h-1.6zM241.70 410.99h1.6v1.6h-1.6zM241.70 412.62h1.6v1.6h-1.6zM241.70 413.86h1.6v1.6h-1.6zM241.70 415.90h1.6v1.6h-1.6zM241.70 418.04h1.6v1.6h-1.6zM241.70 419.50h1.6v1.6h-1.6zM241.70 420.89h1.6v1.6h-1.6zM241.70 423.05h1.6v1.6h-1.6zM241.70 425.07h1.6v1.6h-1.6zM241.70 427.19h1.6v1.6h-1.6zM241.70 428.94h1.6v1.6h-1.6zM241.70 433.72h1.6v1.6h-1.6zM241.70 454.86h1.6v1.6h-1.6zM268.00 402.90h1.6v1.6h-1.6zM268.00 404.74h1.6v1.6h-1.6zM268.00 405.98h1.6v1.6h-1.6zM268.00 407.30h1.6v1.6h-1.6zM268.00 408.84h1.6v1.6h-1.6zM268.00 410.79h1.6v1.6h-1.6zM268.00 412.24h1.6v1.6h-1.6zM268.00 413.74h1.6v1.6h-1.6zM268.00 415.33h1.6v1.6h-1.6zM268.00 416.69h1.6v1.6h-1.6zM268.00 422.26h1.6v1.6h-1.6zM268.00 424.67h1.6v1.6h-1.6zM268.00 429.17h1.6v1.6h-1.6zM268.00 431.45h1.6v1.6h-1.6zM268.00 433.63h1.6v1.6h-1.6zM268.00 435.82h1.6v1.6h-1.6zM268.00 457.82h1.6v1.6h-1.6z" fill="#ff0000"/>
<text x="180.00" y="406.08" font-size="6.8" text-anchor="end" fill="#333">1</text>
<text x="180.00" y="420.45" font-size="6.8" text-anchor="end" fill="#333">0.9</text>
<text x="180.00" y="434.83" font-size="6.8" text-anchor="end" fill="#333">0.8</text>
<text x="180.00" y="449.20" font-size="6.8" text-anchor="end" fill="#333">0.7</text>
<text x="180.00" y="463.58" font-size="6.8" text-anchor="end" fill="#333">0.6</text>
<text x="189.10" y="478.98" font-size="6.8" text-anchor="middle" fill="#333">0</text>
<text x="213.10" y="478.98" font-size="6.8" text-anchor="middle" fill="#333">1</text>
<text x="242.80" y="478.98" font-size="6.8" text-anchor="middle" fill="#333">2</text>
<text x="273.10" y="478.98" font-size="6.8" text-anchor="middle" fill="#333">3</text>
<text x="226.40" y="395.40" font-size="13" text-anchor="middle" textLength="72.2" lengthAdjust="spacingAndGlyphs">1st quadrant</text>
<text x="233.90" y="499.90" font-size="11.8" text-anchor="middle" textLength="75.2" lengthAdjust="spacingAndGlyphs">Relative angle</text>
<text x="232.90" y="512.70" font-size="11.8" text-anchor="middle" textLength="60.2" lengthAdjust="spacingAndGlyphs">(Left hemi.)</text>
<rect x="312.70" y="402.00" width="92.40" height="66.80" fill="none" stroke="#404040" stroke-width="1.4"/>
<path d="M318.00 468.80v-1.3M318.00 402.00v1.3M342.70 468.80v-1.3M342.70 402.00v1.3M373.00 468.80v-1.3M373.00 402.00v1.3M403.60 468.80v-1.3M403.60 402.00v1.3M312.70 407.70h1.3M405.10 407.70h-1.3M312.70 438.80h1.3M405.10 438.80h-1.3M312.70 469.90h1.3M405.10 469.90h-1.3" stroke="#2a2a2a" stroke-width="0.6" fill="none"/>
<path d="M317.20 401.61h1.6v1.6h-1.6zM317.20 407.74h1.6v1.6h-1.6zM317.20 415.50h1.6v1.6h-1.6zM317.20 423.67h1.6v1.6h-1.6zM317.20 434.29h1.6v1.6h-1.6zM317.20 435.90h1.6v1.6h-1.6zM317.20 437.63h1.6v1.6h-1.6zM317.20 439.16h1.6v1.6h-1.6zM317.20 440.64h1.6v1.6h-1.6zM317.20 445.12h1.6v1.6h-1.6zM317.20 456.36h1.6v1.6h-1.6zM344.60 401.61h1.6v1.6h-1.6zM344.60 408.35h1.6v1.6h-1.6zM344.60 411.48h1.6v1.6h-1.6zM344.60 413.88h1.6v1.6h-1.6zM344.60 416.34h1.6v1.6h-1.6zM344.60 421.22h1.6v1.6h-1.6zM344.60 432.86h1.6v1.6h-1.6zM344.60 434.92h1.6v1.6h-1.6zM344.60 436.13h1.6v1.6h-1.6zM344.60 438.05h1.6v1.6h-1.6zM344.60 439.72h1.6v1.6h-1.6zM344.60 440.91h1.6v1.6h-1.6zM344.60 443.04h1.6v1.6h-1.6zM344.60 445.11h1.6v1.6h-1.6zM344.60 446.55h1.6v1.6h-1.6zM344.60 453.70h1.6v1.6h-1.6zM344.60 456.92h1.6v1.6h-1.6zM371.60 406.31h1.6v1.6h-1.6zM371.60 412.44h1.6v1.6h-1.6zM371.60 414.41h1.6v1.6h-1.6zM371.60 416.16h1.6v1.6h-1.6zM371.60 418.15h1.6v1.6h-1.6zM371.60 420.27h1.6v1.6h-1.6zM371.60 421.77h1.6v1.6h-1.6zM371.60 423.22h1.6v1.6h-1.6zM371.60 428.78h1.6v1.6h-1.6zM371.60 430.04h1.6v1.6h-1.6zM371.60 431.82h1.6v1.6h-1.6zM371.60 433.24h1.6v1.6h-1.6zM371.60 434.44h1.6v1.6h-1.6zM371.60 436.10h1.6v1.6h-1.6zM371.60 437.95h1.6v1.6h-1.6zM371.60 439.63h1.6v1.6h-1.6zM371.60 441.07h1.6v1.6h-1.6zM371.60 442.98h1.6v1.6h-1.6zM371.60 448.59h1.6v1.6h-1.6zM371.60 455.22h1.6v1.6h-1.6zM398.80 402.22h1.6v1.6h-1.6zM398.80 405.86h1.6v1.6h-1.6zM398.80 407.95h1.6v1.6h-1.6zM398.80 410.71h1.6v1.6h-1.6zM398.80 413.09h1.6v1.6h-1.6zM398.80 419.59h1.6v1.6h-1.6zM398.80 421.97h1.6v1.6h-1.6zM398.80 427.76h1.6v1.6h-1.6zM398.80 432.86h1.6v1.6h-1.6zM398.80 434.29h1.6v1.6h-1.6zM398.80 436.25h1.6v1.6h-1.6zM398.80 438.42h1.6v1.6h-1.6zM398.80 439.80h1.6v1.6h-1.6zM398.80 441.41h1.6v1.6h-1.6zM398.80 443.57h1.6v1.6h-1.6zM398.80 445.16h1.6v1.6h-1.6zM398.80 447.34h1.6v1.6h-1.6zM398.80 448.59h1.6v1.6h-1.6zM398.80 450.18h1.6v1.6h-1.6z" fill="#0000ff"/>
<text x="308.50" y="410.08" font-size="6.8" text-anchor="end" fill="#333">1.5</text>
<text x="308.50" y="441.18" font-size="6.8" text-anchor="end" fill="#333">1</text>
<text x="308.50" y="472.28" font-size="6.8" text-anchor="end" fill="#333">0.5</text>
<text x="318.00" y="478.98" font-size="6.8" text-anchor="middle" fill="#333">0</text>
<text x="342.70" y="478.98" font-size="6.8" text-anchor="middle" fill="#333">1</text>
<text x="373.00" y="478.98" font-size="6.8" text-anchor="middle" fill="#333">2</text>
<text x="403.60" y="478.98" font-size="6.8" text-anchor="middle" fill="#333">3</text>
<text x="357.50" y="394.40" font-size="13" text-anchor="middle" textLength="71.1" lengthAdjust="spacingAndGlyphs">3rd quadrant</text>
<text x="363.50" y="496.60" font-size="11.8" text-anchor="middle" textLength="74.5" lengthAdjust="spacingAndGlyphs">Relative angle</text>
<text x="362.50" y="509.40" font-size="11.8" text-anchor="middle" textLength="60.2" lengthAdjust="spacingAndGlyphs">(Left hemi.)</text>
<rect x="444.40" y="402.40" width="91.40" height="66.40" fill="none" stroke="#404040" stroke-width="1.4"/>
<path d="M450.00 468.80v-1.3M450.00 402.40v1.3M476.50 468.80v-1.3M476.50 402.40v1.3M503.70 468.80v-1.3M503.70 402.40v1.3M530.30 468.80v-1.3M530.30 402.40v1.3M444.40 407.70h1.3M535.80 407.70h-1.3M444.40 427.13h1.3M535.80 427.13h-1.3M444.40 446.57h1.3M535.80 446.57h-1.3M444.40 466.00h1.3M535.80 466.00h-1.3" stroke="#2a2a2a" stroke-width="0.6" fill="none"/>
<path d="M449.20 402.83h1.6v1.6h-1.6zM449.20 405.03h1.6v1.6h-1.6zM449.20 406.56h1.6v1.6h-1.6zM449.20 408.70h1.6v1.6h-1.6zM449.20 409.93h1.6v1.6h-1.6zM449.20 411.50h1.6v1.6h-1.6zM449.20 413.03h1.6v1.6h-1.6zM449.20 414.22h1.6v1.6h-1.6zM475.70 402.21h1.6v1.6h-1.6zM475.70 403.53h1.6v1.6h-1.6zM475.70 404.93h1.6v1.6h-1.6zM475.70 406.96h1.6v1.6h-1.6zM475.70 408.59h1.6v1.6h-1.6zM475.70 410.26h1.6v1.6h-1.6zM475.70 412.39h1.6v1.6h-1.6zM475.70 413.95h1.6v1.6h-1.6zM475.70 415.17h1.6v1.6h-1.6zM475.70 417.19h1.6v1.6h-1.6zM475.70 418.42h1.6v1.6h-1.6zM475.70 419.68h1.6v1.6h-1.6zM475.70 421.13h1.6v1.6h-1.6zM475.70 423.24h1.6v1.6h-1.6zM475.70 431.84h1.6v1.6h-1.6zM475.70 436.95h1.6v1.6h-1.6zM475.70 438.87h1.6v1.6h-1.6zM475.70 440.34h1.6v1.6h-1.6zM475.70 442.30h1.6v1.6h-1.6zM475.70 444.13h1.6v1.6h-1.6zM475.70 445.35h1.6v1.6h-1.6zM502.90 402.21h1.6v1.6h-1.6zM502.90 404.38h1.6v1.6h-1.6zM502.90 405.82h1.6v1.6h-1.6zM502.90 407.52h1.6v1.6h-1.6zM502.90 408.89h1.6v1.6h-1.6zM502.90 410.84h1.6v1.6h-1.6zM502.90 412.81h1.6v1.6h-1.6zM502.90 414.34h1.6v1.6h-1.6zM502.90 415.90h1.6v1.6h-1.6zM502.90 417.17h1.6v1.6h-1.6zM502.90 419.13h1.6v1.6h-1.6zM502.90 420.38h1.6v1.6h-1.6zM502.90 422.14h1.6v1.6h-1.6zM502.90 431.84h1.6v1.6h-1.6zM502.90 434.04h1.6v1.6h-1.6zM502.90 435.31h1.6v1.6h-1.6zM502.90 437.01h1.6v1.6h-1.6zM502.90 438.66h1.6v1.6h-1.6zM502.90 440.27h1.6v1.6h-1.6zM502.90 442.15h1.6v1.6h-1.6zM502.90 468.00h1.6v1.6h-1.6zM529.50 403.23h1.6v1.6h-1.6zM529.50 404.55h1.6v1.6h-1.6zM529.50 406.04h1.6v1.6h-1.6zM529.50 407.61h1.6v1.6h-1.6zM529.50 409.00h1.6v1.6h-1.6zM529.50 410.44h1.6v1.6h-1.6zM529.50 412.53h1.6v1.6h-1.6zM529.50 414.06h1.6v1.6h-1.6zM529.50 416.26h1.6v1.6h-1.6zM529.50 417.68h1.6v1.6h-1.6zM529.50 419.54h1.6v1.6h-1.6zM529.50 420.84h1.6v1.6h-1.6zM529.50 422.86h1.6v1.6h-1.6zM529.50 424.98h1.6v1.6h-1.6zM529.50 426.47h1.6v1.6h-1.6zM529.50 427.86h1.6v1.6h-1.6zM529.50 429.64h1.6v1.6h-1.6zM529.50 436.95h1.6v1.6h-1.6zM529.50 452.27h1.6v1.6h-1.6z" fill="#ff0000"/>
<text x="440.20" y="410.08" font-size="6.8" text-anchor="end" fill="#333">1</text>
<text x="440.20" y="429.51" font-size="6.8" text-anchor="end" fill="#333">0.8</text>
<text x="440.20" y="448.95" font-size="6.8" text-anchor="end" fill="#333">0.6</text>
<text x="440.20" y="468.38" font-size="6.8" text-anchor="end" fill="#333">0.4</text>
<text x="450.00" y="478.68" font-size="6.8" text-anchor="middle" fill="#333">0</text>
<text x="476.50" y="478.68" font-size="6.8" text-anchor="middle" fill="#333">1</text>
<text x="503.70" y="478.68" font-size="6.8" text-anchor="middle" fill="#333">2</text>
<text x="530.30" y="478.68" font-size="6.8" text-anchor="middle" fill="#333">3</text>
<text x="490.30" y="394.40" font-size="13" text-anchor="middle" textLength="72.6" lengthAdjust="spacingAndGlyphs">1st quadrant</text>
<text x="490.50" y="498.70" font-size="11.8" text-anchor="middle" textLength="74.8" lengthAdjust="spacingAndGlyphs">Relative angle</text>
<text x="488.00" y="511.00" font-size="11.8" text-anchor="middle" textLength="69.9" lengthAdjust="spacingAndGlyphs">(Rigjht hemi.)</text>
<rect x="574.40" y="403.40" width="89.40" height="65.00" fill="none" stroke="#404040" stroke-width="1.4"/>
<path d="M580.00 468.40v-1.3M580.00 403.40v1.3M605.00 468.40v-1.3M605.00 403.40v1.3M631.80 468.40v-1.3M631.80 403.40v1.3M658.20 468.40v-1.3M658.20 403.40v1.3M574.40 407.70h1.3M663.80 407.70h-1.3M574.40 438.40h1.3M663.80 438.40h-1.3M574.40 469.10h1.3M663.80 469.10h-1.3" stroke="#2a2a2a" stroke-width="0.6" fill="none"/>
<path d="M578.80 403.21h1.6v1.6h-1.6zM578.80 404.51h1.6v1.6h-1.6zM578.80 406.33h1.6v1.6h-1.6zM578.80 407.90h1.6v1.6h-1.6zM578.80 409.30h1.6v1.6h-1.6zM578.80 411.10h1.6v1.6h-1.6zM578.80 412.50h1.6v1.6h-1.6zM578.80 414.02h1.6v1.6h-1.6zM578.80 415.40h1.6v1.6h-1.6zM578.80 423.04h1.6v1.6h-1.6zM578.80 434.28h1.6v1.6h-1.6zM578.80 436.03h1.6v1.6h-1.6zM578.80 437.32h1.6v1.6h-1.6zM578.80 439.08h1.6v1.6h-1.6zM604.90 404.24h1.6v1.6h-1.6zM604.90 407.48h1.6v1.6h-1.6zM604.90 410.00h1.6v1.6h-1.6zM604.90 413.69h1.6v1.6h-1.6zM604.90 419.57h1.6v1.6h-1.6zM604.90 423.55h1.6v1.6h-1.6zM604.90 429.01h1.6v1.6h-1.6zM604.90 435.92h1.6v1.6h-1.6zM604.90 437.32h1.6v1.6h-1.6zM604.90 439.43h1.6v1.6h-1.6zM604.90 441.45h1.6v1.6h-1.6zM604.90 443.54h1.6v1.6h-1.6zM604.90 444.90h1.6v1.6h-1.6zM604.90 453.29h1.6v1.6h-1.6zM631.50 405.26h1.6v1.6h-1.6zM631.50 408.87h1.6v1.6h-1.6zM631.50 411.98h1.6v1.6h-1.6zM631.50 414.89h1.6v1.6h-1.6zM631.50 417.41h1.6v1.6h-1.6zM631.50 421.05h1.6v1.6h-1.6zM631.50 427.74h1.6v1.6h-1.6zM631.50 429.92h1.6v1.6h-1.6zM631.50 431.24h1.6v1.6h-1.6zM631.50 433.42h1.6v1.6h-1.6zM631.50 434.67h1.6v1.6h-1.6zM631.50 436.25h1.6v1.6h-1.6zM631.50 438.07h1.6v1.6h-1.6zM631.50 439.43h1.6v1.6h-1.6zM631.50 440.84h1.6v1.6h-1.6zM631.50 442.90h1.6v1.6h-1.6zM631.50 451.66h1.6v1.6h-1.6zM631.50 465.56h1.6v1.6h-1.6zM657.60 406.28h1.6v1.6h-1.6zM657.60 409.00h1.6v1.6h-1.6zM657.60 411.70h1.6v1.6h-1.6zM657.60 418.54h1.6v1.6h-1.6zM657.60 422.13h1.6v1.6h-1.6zM657.60 425.14h1.6v1.6h-1.6zM657.60 434.90h1.6v1.6h-1.6zM657.60 436.21h1.6v1.6h-1.6zM657.60 437.96h1.6v1.6h-1.6zM657.60 439.46h1.6v1.6h-1.6zM657.60 441.24h1.6v1.6h-1.6zM657.60 443.11h1.6v1.6h-1.6zM657.60 447.16h1.6v1.6h-1.6zM657.60 450.27h1.6v1.6h-1.6z" fill="#0000ff"/>
<text x="570.20" y="410.08" font-size="6.8" text-anchor="end" fill="#333">1.5</text>
<text x="570.20" y="440.78" font-size="6.8" text-anchor="end" fill="#333">1</text>
<text x="570.20" y="471.48" font-size="6.8" text-anchor="end" fill="#333">0.5</text>
<text x="580.00" y="478.68" font-size="6.8" text-anchor="middle" fill="#333">0</text>
<text x="605.00" y="478.68" font-size="6.8" text-anchor="middle" fill="#333">1</text>
<text x="631.80" y="478.68" font-size="6.8" text-anchor="middle" fill="#333">2</text>
<text x="658.20" y="478.68" font-size="6.8" text-anchor="middle" fill="#333">3</text>
<text x="621.30" y="393.80" font-size="13" text-anchor="middle" textLength="71.3" lengthAdjust="spacingAndGlyphs">3rd quadrant</text>
<text x="619.00" y="497.90" font-size="11.8" text-anchor="middle" textLength="74.9" lengthAdjust="spacingAndGlyphs">Relative angle</text>
<text x="616.90" y="511.00" font-size="11.8" text-anchor="middle" textLength="70.8" lengthAdjust="spacingAndGlyphs">(Rigjht hemi.)</text>
<rect x="184.10" y="565.90" width="95.50" height="66.80" fill="none" stroke="#404040" stroke-width="1.4"/>
<path d="M184.10 632.70v-1.3M184.10 565.90v1.3M215.70 632.70v-1.3M215.70 565.90v1.3M247.30 632.70v-1.3M247.30 565.90v1.3M278.90 632.70v-1.3M278.90 565.90v1.3M184.10 566.50h1.3M279.60 566.50h-1.3M184.10 583.10h1.3M279.60 583.10h-1.3M184.10 599.70h1.3M279.60 599.70h-1.3M184.10 616.30h1.3M279.60 616.30h-1.3M184.10 632.90h1.3M279.60 632.90h-1.3" stroke="#2a2a2a" stroke-width="0.6" fill="none"/>
<path d="M194.36 567.36h1.6v1.6h-1.6zM233.86 566.12h1.6v1.6h-1.6zM197.61 596.03h1.6v1.6h-1.6zM195.68 599.52h1.6v1.6h-1.6zM195.77 599.94h1.6v1.6h-1.6zM193.59 598.06h1.6v1.6h-1.6zM193.36 597.99h1.6v1.6h-1.6zM237.08 585.77h1.6v1.6h-1.6zM237.88 585.08h1.6v1.6h-1.6zM238.50 573.54h1.6v1.6h-1.6zM237.09 585.55h1.6v1.6h-1.6zM237.04 580.18h1.6v1.6h-1.6zM239.87 584.19h1.6v1.6h-1.6zM239.28 569.91h1.6v1.6h-1.6zM238.49 572.92h1.6v1.6h-1.6zM235.08 570.15h1.6v1.6h-1.6zM236.97 570.57h1.6v1.6h-1.6zM239.65 583.71h1.6v1.6h-1.6zM238.84 571.00h1.6v1.6h-1.6zM234.27 580.63h1.6v1.6h-1.6zM238.64 583.81h1.6v1.6h-1.6zM239.53 581.89h1.6v1.6h-1.6zM238.02 604.58h1.6v1.6h-1.6zM237.03 590.40h1.6v1.6h-1.6zM236.10 602.40h1.6v1.6h-1.6zM237.04 601.37h1.6v1.6h-1.6zM235.56 603.87h1.6v1.6h-1.6zM235.95 590.10h1.6v1.6h-1.6zM247.64 569.36h1.6v1.6h-1.6zM244.41 571.47h1.6v1.6h-1.6zM244.07 576.32h1.6v1.6h-1.6zM247.36 579.58h1.6v1.6h-1.6zM248.86 575.85h1.6v1.6h-1.6zM247.01 569.60h1.6v1.6h-1.6zM244.00 567.49h1.6v1.6h-1.6zM247.32 578.92h1.6v1.6h-1.6zM248.38 581.40h1.6v1.6h-1.6zM249.60 575.43h1.6v1.6h-1.6zM245.62 571.85h1.6v1.6h-1.6zM246.14 583.08h1.6v1.6h-1.6zM248.04 585.53h1.6v1.6h-1.6zM248.52 581.61h1.6v1.6h-1.6zM247.38 567.66h1.6v1.6h-1.6zM247.04 573.78h1.6v1.6h-1.6zM245.32 586.42h1.6v1.6h-1.6zM243.55 583.60h1.6v1.6h-1.6zM247.23 578.20h1.6v1.6h-1.6zM246.58 569.35h1.6v1.6h-1.6zM243.97 599.84h1.6v1.6h-1.6zM246.44 602.74h1.6v1.6h-1.6zM243.35 598.04h1.6v1.6h-1.6zM243.84 598.01h1.6v1.6h-1.6zM244.40 594.82h1.6v1.6h-1.6zM246.13 600.17h1.6v1.6h-1.6zM246.30 596.35h1.6v1.6h-1.6zM243.98 589.83h1.6v1.6h-1.6zM259.10 593.94h1.6v1.6h-1.6zM258.17 577.71h1.6v1.6h-1.6zM263.07 572.93h1.6v1.6h-1.6zM260.10 590.13h1.6v1.6h-1.6zM257.63 577.49h1.6v1.6h-1.6zM261.11 587.27h1.6v1.6h-1.6zM261.64 584.17h1.6v1.6h-1.6zM263.48 574.55h1.6v1.6h-1.6zM259.13 568.90h1.6v1.6h-1.6zM257.84 581.25h1.6v1.6h-1.6zM260.13 591.01h1.6v1.6h-1.6zM257.93 573.04h1.6v1.6h-1.6zM257.64 580.61h1.6v1.6h-1.6zM263.51 594.18h1.6v1.6h-1.6zM258.82 578.71h1.6v1.6h-1.6zM260.76 577.60h1.6v1.6h-1.6zM262.70 593.10h1.6v1.6h-1.6zM259.52 588.93h1.6v1.6h-1.6zM257.87 569.37h1.6v1.6h-1.6zM262.51 575.15h1.6v1.6h-1.6zM257.60 570.86h1.6v1.6h-1.6zM262.27 583.45h1.6v1.6h-1.6zM262.25 583.88h1.6v1.6h-1.6zM258.99 595.40h1.6v1.6h-1.6zM259.03 597.61h1.6v1.6h-1.6zM269.16 576.09h1.6v1.6h-1.6zM271.43 572.12h1.6v1.6h-1.6zM271.54 596.16h1.6v1.6h-1.6zM270.54 589.10h1.6v1.6h-1.6zM272.02 585.49h1.6v1.6h-1.6zM268.72 580.56h1.6v1.6h-1.6zM273.14 598.19h1.6v1.6h-1.6zM272.60 606.57h1.6v1.6h-1.6zM268.69 597.40h1.6v1.6h-1.6zM271.74 568.00h1.6v1.6h-1.6zM271.76 593.63h1.6v1.6h-1.6zM272.60 593.57h1.6v1.6h-1.6zM268.55 569.54h1.6v1.6h-1.6zM271.03 578.45h1.6v1.6h-1.6zM271.24 566.57h1.6v1.6h-1.6zM270.01 572.35h1.6v1.6h-1.6zM271.45 571.61h1.6v1.6h-1.6zM269.80 577.13h1.6v1.6h-1.6zM270.64 594.43h1.6v1.6h-1.6zM268.38 581.36h1.6v1.6h-1.6zM275.19 568.66h1.6v1.6h-1.6zM275.40 598.01h1.6v1.6h-1.6zM275.28 568.06h1.6v1.6h-1.6zM276.03 594.19h1.6v1.6h-1.6zM275.03 597.52h1.6v1.6h-1.6zM277.13 577.86h1.6v1.6h-1.6zM277.14 574.44h1.6v1.6h-1.6zM275.15 579.30h1.6v1.6h-1.6zM276.09 571.76h1.6v1.6h-1.6zM277.53 569.31h1.6v1.6h-1.6zM253.45 568.99h1.6v1.6h-1.6zM261.49 567.09h1.6v1.6h-1.6zM253.84 585.48h1.6v1.6h-1.6zM253.88 589.74h1.6v1.6h-1.6zM260.86 570.38h1.6v1.6h-1.6zM258.83 570.06h1.6v1.6h-1.6zM258.81 583.44h1.6v1.6h-1.6zM253.77 588.16h1.6v1.6h-1.6zM260.00 585.50h1.6v1.6h-1.6zM255.85 580.05h1.6v1.6h-1.6zM260.79 574.95h1.6v1.6h-1.6zM261.61 569.24h1.6v1.6h-1.6zM261.88 574.16h1.6v1.6h-1.6zM263.77 571.88h1.6v1.6h-1.6zM263.41 570.45h1.6v1.6h-1.6zM260.82 573.01h1.6v1.6h-1.6zM262.10 568.53h1.6v1.6h-1.6zM261.82 569.38h1.6v1.6h-1.6zM262.42 575.45h1.6v1.6h-1.6zM263.44 577.02h1.6v1.6h-1.6zM253.33 627.24h1.6v1.6h-1.6zM252.03 627.11h1.6v1.6h-1.6zM253.23 623.89h1.6v1.6h-1.6zM252.04 625.91h1.6v1.6h-1.6zM264.67 619.65h1.6v1.6h-1.6zM240.18 603.05h1.6v1.6h-1.6zM238.60 590.60h1.6v1.6h-1.6zM254.40 594.75h1.6v1.6h-1.6z" fill="#ff0000"/>
<text x="179.90" y="568.88" font-size="6.8" text-anchor="end" fill="#333">1</text>
<text x="179.90" y="585.48" font-size="6.8" text-anchor="end" fill="#333">0.8</text>
<text x="179.90" y="602.08" font-size="6.8" text-anchor="end" fill="#333">0.6</text>
<text x="179.90" y="618.68" font-size="6.8" text-anchor="end" fill="#333">0.4</text>
<text x="179.90" y="635.28" font-size="6.8" text-anchor="end" fill="#333">0.2</text>
<text x="184.10" y="643.48" font-size="6.8" text-anchor="middle" fill="#333">-6</text>
<text x="215.70" y="643.48" font-size="6.8" text-anchor="middle" fill="#333">-4</text>
<text x="247.30" y="643.48" font-size="6.8" text-anchor="middle" fill="#333">-2</text>
<text x="278.90" y="643.48" font-size="6.8" text-anchor="middle" fill="#333">0</text>
<text x="231.30" y="560.80" font-size="14" text-anchor="middle" textLength="62.0" lengthAdjust="spacingAndGlyphs">Excitatory</text>
<text x="227.00" y="663.00" font-size="11.8" text-anchor="middle" textLength="105.3" lengthAdjust="spacingAndGlyphs">Connection strength</text>
<text x="230.30" y="677.90" font-size="11.8" text-anchor="middle" textLength="55.6" lengthAdjust="spacingAndGlyphs">(Left hemi.)</text>
<rect x="311.30" y="568.30" width="94.00" height="65.60" fill="none" stroke="#404040" stroke-width="1.4"/>
<path d="M310.90 633.90v-1.3M310.90 568.30v1.3M342.30 633.90v-1.3M342.30 568.30v1.3M373.70 633.90v-1.3M373.70 568.30v1.3M405.10 633.90v-1.3M405.10 568.30v1.3M311.30 568.50h1.3M405.30 568.50h-1.3M311.30 584.95h1.3M405.30 584.95h-1.3M311.30 601.40h1.3M405.30 601.40h-1.3M311.30 617.85h1.3M405.30 617.85h-1.3M311.30 634.30h1.3M405.30 634.30h-1.3" stroke="#2a2a2a" stroke-width="0.6" fill="none"/>
<path d="M321.09 569.35h1.6v1.6h-1.6zM360.34 568.11h1.6v1.6h-1.6zM322.61 597.66h1.6v1.6h-1.6zM320.68 599.40h1.6v1.6h-1.6zM321.70 597.46h1.6v1.6h-1.6zM321.16 596.81h1.6v1.6h-1.6zM321.30 601.01h1.6v1.6h-1.6zM364.73 580.07h1.6v1.6h-1.6zM361.03 577.79h1.6v1.6h-1.6zM360.85 575.30h1.6v1.6h-1.6zM364.72 575.32h1.6v1.6h-1.6zM364.28 582.41h1.6v1.6h-1.6zM362.86 581.77h1.6v1.6h-1.6zM365.93 586.84h1.6v1.6h-1.6zM365.92 587.85h1.6v1.6h-1.6zM361.63 583.93h1.6v1.6h-1.6zM366.00 580.02h1.6v1.6h-1.6zM362.72 573.72h1.6v1.6h-1.6zM361.81 580.68h1.6v1.6h-1.6zM363.68 575.85h1.6v1.6h-1.6zM365.07 577.63h1.6v1.6h-1.6zM362.53 582.89h1.6v1.6h-1.6zM362.40 593.57h1.6v1.6h-1.6zM363.99 595.40h1.6v1.6h-1.6zM362.44 600.88h1.6v1.6h-1.6zM364.34 598.34h1.6v1.6h-1.6zM362.31 600.46h1.6v1.6h-1.6zM364.69 604.52h1.6v1.6h-1.6zM370.96 582.56h1.6v1.6h-1.6zM374.18 572.30h1.6v1.6h-1.6zM370.73 585.31h1.6v1.6h-1.6zM371.31 582.08h1.6v1.6h-1.6zM373.04 585.22h1.6v1.6h-1.6zM371.82 584.68h1.6v1.6h-1.6zM375.88 574.48h1.6v1.6h-1.6zM370.40 570.06h1.6v1.6h-1.6zM370.40 580.99h1.6v1.6h-1.6zM375.94 573.23h1.6v1.6h-1.6zM374.37 580.03h1.6v1.6h-1.6zM370.99 576.19h1.6v1.6h-1.6zM370.43 584.36h1.6v1.6h-1.6zM372.20 587.62h1.6v1.6h-1.6zM372.27 573.30h1.6v1.6h-1.6zM374.11 578.79h1.6v1.6h-1.6zM373.73 579.50h1.6v1.6h-1.6zM370.65 576.84h1.6v1.6h-1.6zM372.30 574.25h1.6v1.6h-1.6zM375.46 580.13h1.6v1.6h-1.6zM372.46 594.24h1.6v1.6h-1.6zM371.74 601.52h1.6v1.6h-1.6zM373.16 592.41h1.6v1.6h-1.6zM373.41 594.92h1.6v1.6h-1.6zM373.78 595.21h1.6v1.6h-1.6zM372.78 598.37h1.6v1.6h-1.6zM371.23 595.93h1.6v1.6h-1.6zM370.22 598.85h1.6v1.6h-1.6zM388.80 577.14h1.6v1.6h-1.6zM387.84 592.37h1.6v1.6h-1.6zM386.55 585.62h1.6v1.6h-1.6zM387.79 587.13h1.6v1.6h-1.6zM388.13 570.00h1.6v1.6h-1.6zM385.04 579.07h1.6v1.6h-1.6zM388.78 587.81h1.6v1.6h-1.6zM386.97 568.54h1.6v1.6h-1.6zM384.13 582.72h1.6v1.6h-1.6zM384.90 574.88h1.6v1.6h-1.6zM389.80 583.52h1.6v1.6h-1.6zM384.52 581.70h1.6v1.6h-1.6zM387.29 577.00h1.6v1.6h-1.6zM387.11 579.57h1.6v1.6h-1.6zM389.10 583.44h1.6v1.6h-1.6zM386.47 569.41h1.6v1.6h-1.6zM385.21 578.08h1.6v1.6h-1.6zM386.35 575.51h1.6v1.6h-1.6zM384.66 568.21h1.6v1.6h-1.6zM386.12 598.74h1.6v1.6h-1.6zM385.61 587.45h1.6v1.6h-1.6zM383.97 586.83h1.6v1.6h-1.6zM386.53 577.63h1.6v1.6h-1.6zM386.10 591.88h1.6v1.6h-1.6zM385.30 576.21h1.6v1.6h-1.6zM399.21 587.15h1.6v1.6h-1.6zM394.68 575.86h1.6v1.6h-1.6zM395.77 600.11h1.6v1.6h-1.6zM394.12 576.89h1.6v1.6h-1.6zM398.39 582.74h1.6v1.6h-1.6zM396.26 585.71h1.6v1.6h-1.6zM394.73 569.19h1.6v1.6h-1.6zM395.53 582.55h1.6v1.6h-1.6zM398.45 575.26h1.6v1.6h-1.6zM396.25 596.72h1.6v1.6h-1.6zM396.75 603.68h1.6v1.6h-1.6zM398.55 594.24h1.6v1.6h-1.6zM398.65 597.83h1.6v1.6h-1.6zM395.67 598.40h1.6v1.6h-1.6zM395.99 601.18h1.6v1.6h-1.6zM393.33 579.14h1.6v1.6h-1.6zM395.08 598.75h1.6v1.6h-1.6zM395.21 589.10h1.6v1.6h-1.6zM396.00 582.62h1.6v1.6h-1.6zM397.45 593.92h1.6v1.6h-1.6zM404.08 572.49h1.6v1.6h-1.6zM401.34 573.36h1.6v1.6h-1.6zM404.00 574.81h1.6v1.6h-1.6zM401.60 573.25h1.6v1.6h-1.6zM403.15 600.11h1.6v1.6h-1.6zM401.20 569.29h1.6v1.6h-1.6zM403.22 592.37h1.6v1.6h-1.6zM401.48 595.90h1.6v1.6h-1.6zM401.89 575.06h1.6v1.6h-1.6zM402.25 595.58h1.6v1.6h-1.6zM387.70 572.84h1.6v1.6h-1.6zM380.76 570.39h1.6v1.6h-1.6zM384.91 573.10h1.6v1.6h-1.6zM385.48 570.32h1.6v1.6h-1.6zM386.60 571.68h1.6v1.6h-1.6zM381.04 575.28h1.6v1.6h-1.6zM384.18 574.07h1.6v1.6h-1.6zM383.31 570.59h1.6v1.6h-1.6zM384.41 585.85h1.6v1.6h-1.6zM381.39 588.94h1.6v1.6h-1.6zM388.58 579.32h1.6v1.6h-1.6zM388.50 578.26h1.6v1.6h-1.6zM388.57 573.89h1.6v1.6h-1.6zM388.72 569.39h1.6v1.6h-1.6zM387.05 569.66h1.6v1.6h-1.6zM388.50 573.10h1.6v1.6h-1.6zM389.12 569.67h1.6v1.6h-1.6zM388.21 574.87h1.6v1.6h-1.6zM390.05 579.11h1.6v1.6h-1.6zM389.03 572.19h1.6v1.6h-1.6zM378.44 626.88h1.6v1.6h-1.6zM379.47 625.56h1.6v1.6h-1.6zM378.91 625.35h1.6v1.6h-1.6zM379.20 627.39h1.6v1.6h-1.6zM390.95 621.16h1.6v1.6h-1.6zM366.62 604.71h1.6v1.6h-1.6zM365.05 592.38h1.6v1.6h-1.6zM380.75 596.49h1.6v1.6h-1.6z" fill="#0000ff"/>
<text x="307.10" y="570.88" font-size="6.8" text-anchor="end" fill="#333">1</text>
<text x="307.10" y="587.33" font-size="6.8" text-anchor="end" fill="#333">0.8</text>
<text x="307.10" y="603.78" font-size="6.8" text-anchor="end" fill="#333">0.6</text>
<text x="307.10" y="620.23" font-size="6.8" text-anchor="end" fill="#333">0.4</text>
<text x="307.10" y="636.68" font-size="6.8" text-anchor="end" fill="#333">0.2</text>
<text x="310.90" y="644.28" font-size="6.8" text-anchor="middle" fill="#333">-6</text>
<text x="342.30" y="644.28" font-size="6.8" text-anchor="middle" fill="#333">-4</text>
<text x="373.70" y="644.28" font-size="6.8" text-anchor="middle" fill="#333">-2</text>
<text x="405.10" y="644.28" font-size="6.8" text-anchor="middle" fill="#333">0</text>
<text x="362.80" y="560.80" font-size="14" text-anchor="middle" textLength="57.2" lengthAdjust="spacingAndGlyphs">Inhibitory</text>
<text x="355.40" y="663.60" font-size="11.8" text-anchor="middle" textLength="105.8" lengthAdjust="spacingAndGlyphs">Connection strength</text>
<text x="358.50" y="678.30" font-size="11.8" text-anchor="middle" textLength="55.6" lengthAdjust="spacingAndGlyphs">(Left hemi.)</text>
<rect x="443.80" y="567.30" width="94.50" height="65.60" fill="none" stroke="#404040" stroke-width="1.4"/>
<path d="M443.80 632.90v-1.3M443.80 567.30v1.3M490.60 632.90v-1.3M490.60 567.30v1.3M537.40 632.90v-1.3M537.40 567.30v1.3M443.80 567.50h1.3M538.30 567.50h-1.3M443.80 589.43h1.3M538.30 589.43h-1.3M443.80 611.37h1.3M538.30 611.37h-1.3M443.80 633.30h1.3M538.30 633.30h-1.3" stroke="#2a2a2a" stroke-width="0.6" fill="none"/>
<path d="M456.08 575.25h1.6v1.6h-1.6zM454.40 571.36h1.6v1.6h-1.6zM450.85 569.80h1.6v1.6h-1.6zM451.11 572.35h1.6v1.6h-1.6zM455.17 594.12h1.6v1.6h-1.6zM455.17 618.24h1.6v1.6h-1.6zM461.72 609.47h1.6v1.6h-1.6zM477.22 570.47h1.6v1.6h-1.6zM470.74 575.99h1.6v1.6h-1.6zM475.10 574.04h1.6v1.6h-1.6zM483.42 578.33h1.6v1.6h-1.6zM483.44 576.51h1.6v1.6h-1.6zM476.77 578.68h1.6v1.6h-1.6zM476.83 567.11h1.6v1.6h-1.6zM479.88 570.12h1.6v1.6h-1.6zM473.21 577.93h1.6v1.6h-1.6zM472.56 573.50h1.6v1.6h-1.6zM479.47 570.25h1.6v1.6h-1.6zM467.22 571.26h1.6v1.6h-1.6zM484.64 574.18h1.6v1.6h-1.6zM467.42 578.21h1.6v1.6h-1.6zM466.53 580.03h1.6v1.6h-1.6zM485.37 573.14h1.6v1.6h-1.6zM479.95 570.17h1.6v1.6h-1.6zM485.14 573.09h1.6v1.6h-1.6zM479.10 572.84h1.6v1.6h-1.6zM480.74 573.34h1.6v1.6h-1.6zM480.42 579.65h1.6v1.6h-1.6zM480.13 575.62h1.6v1.6h-1.6zM482.10 581.48h1.6v1.6h-1.6zM470.13 582.54h1.6v1.6h-1.6zM482.35 568.11h1.6v1.6h-1.6zM479.90 577.08h1.6v1.6h-1.6zM483.34 570.21h1.6v1.6h-1.6zM477.97 578.91h1.6v1.6h-1.6zM472.62 576.21h1.6v1.6h-1.6zM472.96 576.07h1.6v1.6h-1.6zM480.76 595.42h1.6v1.6h-1.6zM473.62 602.65h1.6v1.6h-1.6zM473.43 611.51h1.6v1.6h-1.6zM482.81 602.50h1.6v1.6h-1.6zM484.13 605.04h1.6v1.6h-1.6zM473.12 606.21h1.6v1.6h-1.6zM480.16 595.35h1.6v1.6h-1.6zM484.89 604.47h1.6v1.6h-1.6zM477.97 611.84h1.6v1.6h-1.6zM480.79 609.67h1.6v1.6h-1.6zM474.80 613.55h1.6v1.6h-1.6zM473.01 600.36h1.6v1.6h-1.6zM474.43 594.78h1.6v1.6h-1.6zM474.02 596.69h1.6v1.6h-1.6zM474.52 613.51h1.6v1.6h-1.6zM481.71 609.07h1.6v1.6h-1.6zM481.88 610.16h1.6v1.6h-1.6zM473.56 598.58h1.6v1.6h-1.6zM481.63 596.97h1.6v1.6h-1.6zM481.83 612.19h1.6v1.6h-1.6zM471.21 612.80h1.6v1.6h-1.6zM470.43 611.09h1.6v1.6h-1.6zM469.46 610.84h1.6v1.6h-1.6zM471.63 618.16h1.6v1.6h-1.6zM485.15 590.55h1.6v1.6h-1.6zM486.65 593.68h1.6v1.6h-1.6zM485.70 590.12h1.6v1.6h-1.6zM485.43 589.40h1.6v1.6h-1.6zM496.35 571.09h1.6v1.6h-1.6zM501.97 573.28h1.6v1.6h-1.6zM496.35 602.89h1.6v1.6h-1.6zM512.26 590.83h1.6v1.6h-1.6zM512.26 586.44h1.6v1.6h-1.6zM516.94 600.70h1.6v1.6h-1.6zM511.33 566.70h1.6v1.6h-1.6zM529.39 592.48h1.6v1.6h-1.6zM527.72 578.35h1.6v1.6h-1.6zM528.72 575.56h1.6v1.6h-1.6zM524.59 572.26h1.6v1.6h-1.6zM527.66 576.44h1.6v1.6h-1.6zM531.40 582.66h1.6v1.6h-1.6zM527.98 572.56h1.6v1.6h-1.6zM535.83 572.60h1.6v1.6h-1.6zM530.52 586.10h1.6v1.6h-1.6zM523.41 567.41h1.6v1.6h-1.6zM532.43 571.43h1.6v1.6h-1.6zM527.22 577.51h1.6v1.6h-1.6zM536.28 571.33h1.6v1.6h-1.6zM531.00 585.66h1.6v1.6h-1.6zM528.58 569.77h1.6v1.6h-1.6zM527.85 575.34h1.6v1.6h-1.6zM531.01 569.55h1.6v1.6h-1.6zM533.90 586.35h1.6v1.6h-1.6zM522.58 586.90h1.6v1.6h-1.6zM528.49 578.03h1.6v1.6h-1.6zM534.02 569.79h1.6v1.6h-1.6zM523.15 571.27h1.6v1.6h-1.6zM533.96 570.34h1.6v1.6h-1.6zM530.59 586.61h1.6v1.6h-1.6zM534.51 571.99h1.6v1.6h-1.6zM532.17 569.06h1.6v1.6h-1.6zM527.43 591.78h1.6v1.6h-1.6zM530.33 572.25h1.6v1.6h-1.6zM525.37 573.55h1.6v1.6h-1.6zM535.64 587.70h1.6v1.6h-1.6zM531.08 575.54h1.6v1.6h-1.6zM529.09 588.45h1.6v1.6h-1.6zM526.14 573.52h1.6v1.6h-1.6zM533.67 581.51h1.6v1.6h-1.6zM523.79 572.00h1.6v1.6h-1.6zM533.40 587.73h1.6v1.6h-1.6zM530.70 569.53h1.6v1.6h-1.6zM534.99 579.81h1.6v1.6h-1.6zM529.25 577.96h1.6v1.6h-1.6zM525.22 588.84h1.6v1.6h-1.6zM525.10 574.90h1.6v1.6h-1.6zM527.65 578.64h1.6v1.6h-1.6zM528.21 579.94h1.6v1.6h-1.6zM524.65 592.89h1.6v1.6h-1.6zM536.56 583.86h1.6v1.6h-1.6zM525.23 604.19h1.6v1.6h-1.6zM530.33 617.25h1.6v1.6h-1.6zM528.90 612.08h1.6v1.6h-1.6zM528.32 620.97h1.6v1.6h-1.6zM524.68 594.38h1.6v1.6h-1.6zM530.92 608.20h1.6v1.6h-1.6zM528.68 614.36h1.6v1.6h-1.6zM530.27 609.86h1.6v1.6h-1.6zM531.52 600.50h1.6v1.6h-1.6zM530.56 595.12h1.6v1.6h-1.6z" fill="#ff0000"/>
<text x="439.60" y="569.88" font-size="6.8" text-anchor="end" fill="#333">1</text>
<text x="439.60" y="591.81" font-size="6.8" text-anchor="end" fill="#333">0.8</text>
<text x="439.60" y="613.75" font-size="6.8" text-anchor="end" fill="#333">0.6</text>
<text x="439.60" y="635.68" font-size="6.8" text-anchor="end" fill="#333">0.4</text>
<text x="443.80" y="643.48" font-size="6.8" text-anchor="middle" fill="#333">-10</text>
<text x="490.60" y="643.48" font-size="6.8" text-anchor="middle" fill="#333">-5</text>
<text x="537.40" y="643.48" font-size="6.8" text-anchor="middle" fill="#333">0</text>
<text x="488.90" y="559.70" font-size="14" text-anchor="middle" textLength="62.4" lengthAdjust="spacingAndGlyphs">Excitatory</text>
<text x="491.80" y="663.00" font-size="11.8" text-anchor="middle" textLength="105.3" lengthAdjust="spacingAndGlyphs">Connection strength</text>
<text x="490.90" y="680.30" font-size="11.8" text-anchor="middle" textLength="63.3" lengthAdjust="spacingAndGlyphs">(Right hemi.)</text>
<rect x="571.80" y="566.70" width="94.80" height="66.70" fill="none" stroke="#404040" stroke-width="1.4"/>
<path d="M570.70 633.40v-1.3M570.70 566.70v1.3M618.35 633.40v-1.3M618.35 566.70v1.3M666.00 633.40v-1.3M666.00 566.70v1.3M571.80 567.30h1.3M666.60 567.30h-1.3M571.80 589.33h1.3M666.60 589.33h-1.3M571.80 611.37h1.3M666.60 611.37h-1.3M571.80 633.40h1.3M666.60 633.40h-1.3" stroke="#2a2a2a" stroke-width="0.6" fill="none"/>
<path d="M577.09 575.06h1.6v1.6h-1.6zM576.58 574.12h1.6v1.6h-1.6zM575.46 574.98h1.6v1.6h-1.6zM579.98 569.56h1.6v1.6h-1.6zM582.29 594.04h1.6v1.6h-1.6zM582.29 618.28h1.6v1.6h-1.6zM588.96 609.47h1.6v1.6h-1.6zM603.33 567.37h1.6v1.6h-1.6zM612.80 581.96h1.6v1.6h-1.6zM606.26 576.46h1.6v1.6h-1.6zM596.24 567.17h1.6v1.6h-1.6zM599.12 573.70h1.6v1.6h-1.6zM607.16 567.22h1.6v1.6h-1.6zM607.77 576.53h1.6v1.6h-1.6zM603.12 580.39h1.6v1.6h-1.6zM613.97 566.64h1.6v1.6h-1.6zM598.37 582.39h1.6v1.6h-1.6zM599.09 577.21h1.6v1.6h-1.6zM612.65 568.08h1.6v1.6h-1.6zM611.28 582.25h1.6v1.6h-1.6zM610.21 571.30h1.6v1.6h-1.6zM607.28 566.74h1.6v1.6h-1.6zM594.89 580.63h1.6v1.6h-1.6zM609.55 567.50h1.6v1.6h-1.6zM607.92 578.09h1.6v1.6h-1.6zM606.13 570.50h1.6v1.6h-1.6zM595.94 577.67h1.6v1.6h-1.6zM599.11 580.97h1.6v1.6h-1.6zM603.82 580.24h1.6v1.6h-1.6zM598.72 580.66h1.6v1.6h-1.6zM607.93 582.82h1.6v1.6h-1.6zM608.76 579.80h1.6v1.6h-1.6zM594.48 567.70h1.6v1.6h-1.6zM598.35 567.59h1.6v1.6h-1.6zM611.90 568.34h1.6v1.6h-1.6zM596.66 575.63h1.6v1.6h-1.6zM595.76 567.68h1.6v1.6h-1.6zM610.83 601.41h1.6v1.6h-1.6zM606.00 607.13h1.6v1.6h-1.6zM610.59 604.40h1.6v1.6h-1.6zM608.18 611.04h1.6v1.6h-1.6zM603.14 612.75h1.6v1.6h-1.6zM609.24 602.90h1.6v1.6h-1.6zM602.19 596.61h1.6v1.6h-1.6zM603.70 605.71h1.6v1.6h-1.6zM602.32 608.50h1.6v1.6h-1.6zM610.80 607.24h1.6v1.6h-1.6zM602.47 604.13h1.6v1.6h-1.6zM604.34 595.96h1.6v1.6h-1.6zM601.81 594.47h1.6v1.6h-1.6zM601.10 596.12h1.6v1.6h-1.6zM608.68 609.68h1.6v1.6h-1.6zM606.31 608.20h1.6v1.6h-1.6zM603.59 609.87h1.6v1.6h-1.6zM604.91 594.22h1.6v1.6h-1.6zM612.76 595.53h1.6v1.6h-1.6zM601.60 608.13h1.6v1.6h-1.6zM599.90 617.84h1.6v1.6h-1.6zM599.09 616.01h1.6v1.6h-1.6zM600.29 618.15h1.6v1.6h-1.6zM599.48 615.65h1.6v1.6h-1.6zM613.05 594.03h1.6v1.6h-1.6zM614.37 591.14h1.6v1.6h-1.6zM613.14 591.64h1.6v1.6h-1.6zM614.52 592.84h1.6v1.6h-1.6zM624.22 570.91h1.6v1.6h-1.6zM629.94 573.11h1.6v1.6h-1.6zM624.22 602.86h1.6v1.6h-1.6zM640.42 590.74h1.6v1.6h-1.6zM640.42 586.33h1.6v1.6h-1.6zM645.19 600.65h1.6v1.6h-1.6zM639.47 566.50h1.6v1.6h-1.6zM659.07 590.24h1.6v1.6h-1.6zM653.48 572.82h1.6v1.6h-1.6zM661.08 588.62h1.6v1.6h-1.6zM652.04 591.63h1.6v1.6h-1.6zM659.60 580.40h1.6v1.6h-1.6zM654.82 588.37h1.6v1.6h-1.6zM659.66 574.55h1.6v1.6h-1.6zM662.51 577.99h1.6v1.6h-1.6zM653.80 592.23h1.6v1.6h-1.6zM661.38 582.80h1.6v1.6h-1.6zM661.22 592.52h1.6v1.6h-1.6zM662.49 584.81h1.6v1.6h-1.6zM662.94 570.23h1.6v1.6h-1.6zM657.95 593.62h1.6v1.6h-1.6zM663.92 580.91h1.6v1.6h-1.6zM663.37 586.71h1.6v1.6h-1.6zM653.56 571.14h1.6v1.6h-1.6zM656.15 589.54h1.6v1.6h-1.6zM656.21 577.66h1.6v1.6h-1.6zM650.97 579.72h1.6v1.6h-1.6zM657.28 579.84h1.6v1.6h-1.6zM652.63 574.36h1.6v1.6h-1.6zM662.58 570.21h1.6v1.6h-1.6zM655.49 574.45h1.6v1.6h-1.6zM656.36 573.35h1.6v1.6h-1.6zM651.78 570.00h1.6v1.6h-1.6zM664.54 580.41h1.6v1.6h-1.6zM658.24 579.43h1.6v1.6h-1.6zM658.59 593.47h1.6v1.6h-1.6zM664.73 587.88h1.6v1.6h-1.6zM653.51 591.21h1.6v1.6h-1.6zM654.49 571.54h1.6v1.6h-1.6zM651.33 591.38h1.6v1.6h-1.6zM660.90 588.67h1.6v1.6h-1.6zM651.16 577.53h1.6v1.6h-1.6zM659.15 579.64h1.6v1.6h-1.6zM660.95 591.21h1.6v1.6h-1.6zM663.33 574.29h1.6v1.6h-1.6zM651.55 590.65h1.6v1.6h-1.6zM657.96 580.25h1.6v1.6h-1.6zM654.90 590.68h1.6v1.6h-1.6zM656.70 590.27h1.6v1.6h-1.6zM659.36 570.33h1.6v1.6h-1.6zM653.01 578.26h1.6v1.6h-1.6zM661.58 589.52h1.6v1.6h-1.6zM659.11 595.76h1.6v1.6h-1.6zM655.77 610.00h1.6v1.6h-1.6zM659.21 607.11h1.6v1.6h-1.6zM655.83 595.66h1.6v1.6h-1.6zM658.73 612.26h1.6v1.6h-1.6zM654.64 612.35h1.6v1.6h-1.6zM656.13 594.56h1.6v1.6h-1.6zM658.94 596.44h1.6v1.6h-1.6zM659.02 598.24h1.6v1.6h-1.6zM653.22 607.33h1.6v1.6h-1.6z" fill="#0000ff"/>
<text x="567.60" y="569.68" font-size="6.8" text-anchor="end" fill="#333">1</text>
<text x="567.60" y="591.71" font-size="6.8" text-anchor="end" fill="#333">0.8</text>
<text x="567.60" y="613.75" font-size="6.8" text-anchor="end" fill="#333">0.6</text>
<text x="567.60" y="635.78" font-size="6.8" text-anchor="end" fill="#333">0.4</text>
<text x="570.70" y="643.38" font-size="6.8" text-anchor="middle" fill="#333">-10</text>
<text x="618.35" y="643.38" font-size="6.8" text-anchor="middle" fill="#333">-5</text>
<text x="666.00" y="643.38" font-size="6.8" text-anchor="middle" fill="#333">0</text>
<text x="617.60" y="560.60" font-size="14" text-anchor="middle" textLength="56.5" lengthAdjust="spacingAndGlyphs">Inhibitory</text>
<text x="620.30" y="663.70" font-size="11.8" text-anchor="middle" textLength="106.3" lengthAdjust="spacingAndGlyphs">Connection strength</text>
<text x="622.00" y="678.50" font-size="11.8" text-anchor="middle" textLength="62.5" lengthAdjust="spacingAndGlyphs">(Right hemi.)</text>
<rect x="184.10" y="735.40" width="95.50" height="66.60" fill="none" stroke="#404040" stroke-width="1.4"/>
<path d="M184.10 802.00v-1.3M184.10 735.40v1.3M215.77 802.00v-1.3M215.77 735.40v1.3M247.43 802.00v-1.3M247.43 735.40v1.3M279.10 802.00v-1.3M279.10 735.40v1.3M184.10 736.60h1.3M279.60 736.60h-1.3M184.10 751.10h1.3M279.60 751.10h-1.3M184.10 765.60h1.3M279.60 765.60h-1.3M184.10 780.10h1.3M279.60 780.10h-1.3M184.10 794.60h1.3M279.60 794.60h-1.3" stroke="#2a2a2a" stroke-width="0.6" fill="none"/>
<path d="M192.80 743.05h1.6v1.6h-1.6zM195.97 751.75h1.6v1.6h-1.6zM195.97 753.20h1.6v1.6h-1.6zM199.13 754.65h1.6v1.6h-1.6zM197.55 766.25h1.6v1.6h-1.6zM253.62 737.23h1.6v1.6h-1.6zM237.91 748.37h1.6v1.6h-1.6zM246.41 749.62h1.6v1.6h-1.6zM244.15 756.04h1.6v1.6h-1.6zM241.98 746.57h1.6v1.6h-1.6zM232.85 754.52h1.6v1.6h-1.6zM253.88 740.66h1.6v1.6h-1.6zM253.15 743.78h1.6v1.6h-1.6zM250.32 738.31h1.6v1.6h-1.6zM251.99 756.80h1.6v1.6h-1.6zM246.60 751.77h1.6v1.6h-1.6zM247.42 751.60h1.6v1.6h-1.6zM244.40 737.44h1.6v1.6h-1.6zM246.15 752.10h1.6v1.6h-1.6zM243.92 748.12h1.6v1.6h-1.6zM253.46 751.30h1.6v1.6h-1.6zM239.15 743.47h1.6v1.6h-1.6zM235.05 744.62h1.6v1.6h-1.6zM253.58 746.38h1.6v1.6h-1.6zM238.33 747.41h1.6v1.6h-1.6zM244.22 754.32h1.6v1.6h-1.6zM235.13 754.69h1.6v1.6h-1.6zM238.89 748.71h1.6v1.6h-1.6zM238.77 752.26h1.6v1.6h-1.6zM234.33 745.67h1.6v1.6h-1.6zM251.00 744.28h1.6v1.6h-1.6zM245.02 743.40h1.6v1.6h-1.6zM236.84 742.10h1.6v1.6h-1.6zM242.60 745.63h1.6v1.6h-1.6zM245.97 747.35h1.6v1.6h-1.6zM239.27 752.28h1.6v1.6h-1.6zM237.30 746.40h1.6v1.6h-1.6zM240.88 744.81h1.6v1.6h-1.6zM232.65 749.88h1.6v1.6h-1.6zM251.49 752.36h1.6v1.6h-1.6zM246.99 762.71h1.6v1.6h-1.6zM245.27 757.68h1.6v1.6h-1.6zM245.34 759.86h1.6v1.6h-1.6zM244.47 767.02h1.6v1.6h-1.6zM248.98 763.23h1.6v1.6h-1.6zM243.86 763.76h1.6v1.6h-1.6zM266.77 739.64h1.6v1.6h-1.6zM259.97 747.04h1.6v1.6h-1.6zM277.46 739.59h1.6v1.6h-1.6zM260.90 745.41h1.6v1.6h-1.6zM264.97 740.51h1.6v1.6h-1.6zM270.40 737.98h1.6v1.6h-1.6zM274.62 742.79h1.6v1.6h-1.6zM272.92 739.52h1.6v1.6h-1.6zM273.35 743.41h1.6v1.6h-1.6zM273.87 740.03h1.6v1.6h-1.6zM276.54 748.45h1.6v1.6h-1.6zM275.64 750.24h1.6v1.6h-1.6zM273.48 741.81h1.6v1.6h-1.6zM267.96 736.34h1.6v1.6h-1.6zM269.49 744.24h1.6v1.6h-1.6zM273.85 737.64h1.6v1.6h-1.6zM270.22 744.80h1.6v1.6h-1.6zM267.03 743.66h1.6v1.6h-1.6zM272.60 746.05h1.6v1.6h-1.6zM265.76 742.25h1.6v1.6h-1.6zM265.63 745.63h1.6v1.6h-1.6zM273.92 737.98h1.6v1.6h-1.6zM268.00 743.86h1.6v1.6h-1.6zM261.51 745.89h1.6v1.6h-1.6zM260.70 741.96h1.6v1.6h-1.6zM269.69 749.03h1.6v1.6h-1.6zM276.66 745.60h1.6v1.6h-1.6zM275.08 738.15h1.6v1.6h-1.6zM277.45 747.34h1.6v1.6h-1.6zM266.49 737.10h1.6v1.6h-1.6zM257.94 749.61h1.6v1.6h-1.6zM269.34 743.09h1.6v1.6h-1.6zM276.66 739.08h1.6v1.6h-1.6zM268.80 735.82h1.6v1.6h-1.6zM268.37 742.80h1.6v1.6h-1.6zM271.82 744.65h1.6v1.6h-1.6zM265.08 741.68h1.6v1.6h-1.6zM264.94 736.56h1.6v1.6h-1.6zM271.64 742.68h1.6v1.6h-1.6zM259.75 744.87h1.6v1.6h-1.6zM263.74 751.85h1.6v1.6h-1.6zM264.28 748.62h1.6v1.6h-1.6zM265.52 752.61h1.6v1.6h-1.6zM263.86 751.21h1.6v1.6h-1.6zM265.62 754.07h1.6v1.6h-1.6zM237.23 783.80h1.6v1.6h-1.6zM236.09 788.13h1.6v1.6h-1.6zM238.65 783.71h1.6v1.6h-1.6zM237.17 789.94h1.6v1.6h-1.6zM238.38 784.90h1.6v1.6h-1.6zM240.30 782.20h1.6v1.6h-1.6zM248.22 793.80h1.6v1.6h-1.6zM249.80 793.80h1.6v1.6h-1.6zM248.22 785.10h1.6v1.6h-1.6zM257.72 796.70h1.6v1.6h-1.6zM260.88 788.00h1.6v1.6h-1.6zM270.38 790.90h1.6v1.6h-1.6zM262.47 800.62h1.6v1.6h-1.6zM237.13 767.70h1.6v1.6h-1.6zM237.13 764.80h1.6v1.6h-1.6zM237.93 761.90h1.6v1.6h-1.6zM249.80 770.60h1.6v1.6h-1.6zM250.59 767.70h1.6v1.6h-1.6zM248.22 764.80h1.6v1.6h-1.6zM260.88 766.25h1.6v1.6h-1.6zM276.72 760.45h1.6v1.6h-1.6zM267.22 753.20h1.6v1.6h-1.6zM254.55 757.55h1.6v1.6h-1.6zM273.55 740.15h1.6v1.6h-1.6zM270.38 741.60h1.6v1.6h-1.6z" fill="#ff0000"/>
<text x="179.90" y="738.98" font-size="6.8" text-anchor="end" fill="#333">1</text>
<text x="179.90" y="753.48" font-size="6.8" text-anchor="end" fill="#333">0.9</text>
<text x="179.90" y="767.98" font-size="6.8" text-anchor="end" fill="#333">0.8</text>
<text x="179.90" y="782.48" font-size="6.8" text-anchor="end" fill="#333">0.7</text>
<text x="179.90" y="796.98" font-size="6.8" text-anchor="end" fill="#333">0.6</text>
<text x="184.10" y="812.58" font-size="6.8" text-anchor="middle" fill="#333">-6</text>
<text x="215.77" y="812.58" font-size="6.8" text-anchor="middle" fill="#333">-4</text>
<text x="247.43" y="812.58" font-size="6.8" text-anchor="middle" fill="#333">-2</text>
<text x="279.10" y="812.58" font-size="6.8" text-anchor="middle" fill="#333">0</text>
<text x="227.00" y="728.80" font-size="13" text-anchor="middle" textLength="72.5" lengthAdjust="spacingAndGlyphs">1st quadrant</text>
<text x="227.90" y="826.50" font-size="11.8" text-anchor="middle" textLength="106.3" lengthAdjust="spacingAndGlyphs">Connection strength</text>
<text x="240.00" y="839.20" font-size="11.8" text-anchor="middle" textLength="55.8" lengthAdjust="spacingAndGlyphs">(Left hemi.)</text>
<rect x="311.70" y="735.40" width="95.40" height="67.00" fill="none" stroke="#404040" stroke-width="1.4"/>
<path d="M311.00 802.40v-1.3M311.00 735.40v1.3M342.77 802.40v-1.3M342.77 735.40v1.3M374.53 802.40v-1.3M374.53 735.40v1.3M406.30 802.40v-1.3M406.30 735.40v1.3M311.70 741.10h1.3M407.10 741.10h-1.3M311.70 771.75h1.3M407.10 771.75h-1.3M311.70 802.40h1.3M407.10 802.40h-1.3" stroke="#2a2a2a" stroke-width="0.6" fill="none"/>
<path d="M322.91 751.33h1.6v1.6h-1.6zM322.91 755.62h1.6v1.6h-1.6zM319.73 772.18h1.6v1.6h-1.6zM324.50 772.79h1.6v1.6h-1.6zM326.08 774.02h1.6v1.6h-1.6zM377.68 740.48h1.6v1.6h-1.6zM379.19 750.95h1.6v1.6h-1.6zM362.92 753.36h1.6v1.6h-1.6zM370.81 749.41h1.6v1.6h-1.6zM363.62 755.34h1.6v1.6h-1.6zM373.45 747.60h1.6v1.6h-1.6zM367.29 740.41h1.6v1.6h-1.6zM373.59 757.91h1.6v1.6h-1.6zM368.59 744.21h1.6v1.6h-1.6zM366.26 745.99h1.6v1.6h-1.6zM359.53 753.09h1.6v1.6h-1.6zM378.17 747.91h1.6v1.6h-1.6zM374.29 755.07h1.6v1.6h-1.6zM370.51 748.52h1.6v1.6h-1.6zM365.35 746.80h1.6v1.6h-1.6zM371.26 740.35h1.6v1.6h-1.6zM372.21 751.13h1.6v1.6h-1.6zM362.14 755.81h1.6v1.6h-1.6zM376.33 756.73h1.6v1.6h-1.6zM361.66 755.55h1.6v1.6h-1.6zM384.26 769.29h1.6v1.6h-1.6zM388.29 769.43h1.6v1.6h-1.6zM363.79 775.75h1.6v1.6h-1.6zM395.30 773.28h1.6v1.6h-1.6zM392.85 773.03h1.6v1.6h-1.6zM368.56 773.73h1.6v1.6h-1.6zM365.45 768.65h1.6v1.6h-1.6zM386.92 773.07h1.6v1.6h-1.6zM381.03 772.78h1.6v1.6h-1.6zM363.46 768.76h1.6v1.6h-1.6zM386.94 768.21h1.6v1.6h-1.6zM380.58 770.91h1.6v1.6h-1.6zM372.12 775.50h1.6v1.6h-1.6zM402.42 769.04h1.6v1.6h-1.6zM375.03 768.69h1.6v1.6h-1.6zM397.31 773.43h1.6v1.6h-1.6zM387.82 768.20h1.6v1.6h-1.6zM383.07 768.29h1.6v1.6h-1.6zM371.83 772.75h1.6v1.6h-1.6zM392.98 774.09h1.6v1.6h-1.6zM374.78 768.88h1.6v1.6h-1.6zM382.57 769.54h1.6v1.6h-1.6zM371.85 774.47h1.6v1.6h-1.6zM376.97 774.37h1.6v1.6h-1.6zM404.23 773.54h1.6v1.6h-1.6zM386.00 774.94h1.6v1.6h-1.6zM384.76 772.78h1.6v1.6h-1.6zM378.96 775.33h1.6v1.6h-1.6zM366.51 769.27h1.6v1.6h-1.6zM376.65 773.90h1.6v1.6h-1.6zM369.53 773.59h1.6v1.6h-1.6zM371.57 775.58h1.6v1.6h-1.6zM390.57 773.13h1.6v1.6h-1.6zM367.96 770.23h1.6v1.6h-1.6zM365.15 773.71h1.6v1.6h-1.6zM398.16 774.84h1.6v1.6h-1.6zM380.74 769.19h1.6v1.6h-1.6zM396.83 774.59h1.6v1.6h-1.6zM376.72 770.10h1.6v1.6h-1.6zM377.79 768.22h1.6v1.6h-1.6zM370.28 768.28h1.6v1.6h-1.6zM383.48 774.04h1.6v1.6h-1.6zM381.16 774.81h1.6v1.6h-1.6zM392.45 773.78h1.6v1.6h-1.6zM401.04 771.17h1.6v1.6h-1.6zM388.19 786.32h1.6v1.6h-1.6zM389.34 786.73h1.6v1.6h-1.6zM390.60 787.83h1.6v1.6h-1.6zM388.88 782.69h1.6v1.6h-1.6zM387.73 779.88h1.6v1.6h-1.6zM388.27 781.28h1.6v1.6h-1.6zM389.14 785.53h1.6v1.6h-1.6zM388.30 788.29h1.6v1.6h-1.6zM389.81 739.26h1.6v1.6h-1.6zM392.56 744.91h1.6v1.6h-1.6zM388.52 747.94h1.6v1.6h-1.6zM393.33 749.79h1.6v1.6h-1.6zM392.10 762.84h1.6v1.6h-1.6zM392.37 758.02h1.6v1.6h-1.6zM388.84 743.29h1.6v1.6h-1.6zM391.82 752.70h1.6v1.6h-1.6zM403.76 741.54h1.6v1.6h-1.6zM403.27 738.95h1.6v1.6h-1.6zM388.96 756.51h1.6v1.6h-1.6zM387.00 744.41h1.6v1.6h-1.6zM399.09 754.26h1.6v1.6h-1.6zM394.30 745.02h1.6v1.6h-1.6zM399.77 757.36h1.6v1.6h-1.6zM402.58 754.24h1.6v1.6h-1.6zM398.43 759.36h1.6v1.6h-1.6zM388.64 737.41h1.6v1.6h-1.6zM400.43 743.42h1.6v1.6h-1.6zM387.21 763.62h1.6v1.6h-1.6zM383.26 793.02h1.6v1.6h-1.6zM403.91 790.57h1.6v1.6h-1.6zM365.79 780.14h1.6v1.6h-1.6zM373.73 780.14h1.6v1.6h-1.6zM376.91 764.82h1.6v1.6h-1.6z" fill="#0000ff"/>
<text x="307.50" y="743.48" font-size="6.8" text-anchor="end" fill="#333">1.5</text>
<text x="307.50" y="774.13" font-size="6.8" text-anchor="end" fill="#333">1</text>
<text x="307.50" y="804.78" font-size="6.8" text-anchor="end" fill="#333">0.5</text>
<text x="311.00" y="812.58" font-size="6.8" text-anchor="middle" fill="#333">-6</text>
<text x="342.77" y="812.58" font-size="6.8" text-anchor="middle" fill="#333">-4</text>
<text x="374.53" y="812.58" font-size="6.8" text-anchor="middle" fill="#333">-2</text>
<text x="406.30" y="812.58" font-size="6.8" text-anchor="middle" fill="#333">0</text>
<text x="358.00" y="728.40" font-size="13" text-anchor="middle" textLength="70.9" lengthAdjust="spacingAndGlyphs">3rd quadrant</text>
<text x="357.90" y="826.50" font-size="11.8" text-anchor="middle" textLength="105.9" lengthAdjust="spacingAndGlyphs">Connection strength</text>
<text x="368.20" y="839.60" font-size="11.8" text-anchor="middle" textLength="55.8" lengthAdjust="spacingAndGlyphs">(Left hemi.)</text>
<rect x="442.40" y="735.40" width="95.40" height="67.00" fill="none" stroke="#404040" stroke-width="1.4"/>
<path d="M441.40 802.40v-1.3M441.40 735.40v1.3M489.10 802.40v-1.3M489.10 735.40v1.3M536.80 802.40v-1.3M536.80 735.40v1.3M442.40 741.50h1.3M537.80 741.50h-1.3M442.40 760.57h1.3M537.80 760.57h-1.3M442.40 779.63h1.3M537.80 779.63h-1.3M442.40 798.70h1.3M537.80 798.70h-1.3" stroke="#2a2a2a" stroke-width="0.6" fill="none"/>
<path d="M447.69 748.72h1.6v1.6h-1.6zM449.71 747.33h1.6v1.6h-1.6zM445.93 747.86h1.6v1.6h-1.6zM454.50 748.86h1.6v1.6h-1.6zM452.05 748.33h1.6v1.6h-1.6zM452.05 755.95h1.6v1.6h-1.6zM449.19 767.39h1.6v1.6h-1.6zM452.05 773.11h1.6v1.6h-1.6zM482.87 746.85h1.6v1.6h-1.6zM480.17 751.36h1.6v1.6h-1.6zM473.99 745.21h1.6v1.6h-1.6zM472.11 754.99h1.6v1.6h-1.6zM482.76 743.90h1.6v1.6h-1.6zM470.73 754.39h1.6v1.6h-1.6zM483.19 746.31h1.6v1.6h-1.6zM465.49 751.50h1.6v1.6h-1.6zM466.89 743.68h1.6v1.6h-1.6zM469.06 741.92h1.6v1.6h-1.6zM480.90 753.77h1.6v1.6h-1.6zM479.69 749.37h1.6v1.6h-1.6zM480.85 743.15h1.6v1.6h-1.6zM470.62 753.71h1.6v1.6h-1.6zM485.22 748.94h1.6v1.6h-1.6zM484.86 745.11h1.6v1.6h-1.6zM480.66 743.13h1.6v1.6h-1.6zM478.23 748.53h1.6v1.6h-1.6zM465.64 745.01h1.6v1.6h-1.6zM473.85 747.68h1.6v1.6h-1.6zM484.82 753.17h1.6v1.6h-1.6zM481.17 754.38h1.6v1.6h-1.6zM479.87 743.48h1.6v1.6h-1.6zM470.18 747.19h1.6v1.6h-1.6zM485.72 745.88h1.6v1.6h-1.6zM476.38 751.43h1.6v1.6h-1.6zM465.75 749.88h1.6v1.6h-1.6zM473.48 752.12h1.6v1.6h-1.6zM471.26 753.05h1.6v1.6h-1.6zM479.96 745.41h1.6v1.6h-1.6zM469.67 751.54h1.6v1.6h-1.6zM475.76 748.64h1.6v1.6h-1.6zM484.98 749.97h1.6v1.6h-1.6zM471.02 742.35h1.6v1.6h-1.6zM467.56 746.95h1.6v1.6h-1.6zM474.31 761.73h1.6v1.6h-1.6zM477.59 762.88h1.6v1.6h-1.6zM471.80 764.85h1.6v1.6h-1.6zM478.36 769.16h1.6v1.6h-1.6zM480.91 761.40h1.6v1.6h-1.6zM470.97 772.76h1.6v1.6h-1.6zM474.72 774.50h1.6v1.6h-1.6zM470.14 772.94h1.6v1.6h-1.6zM472.23 764.12h1.6v1.6h-1.6zM476.06 776.46h1.6v1.6h-1.6zM474.17 769.00h1.6v1.6h-1.6zM474.76 775.31h1.6v1.6h-1.6zM470.32 778.61h1.6v1.6h-1.6zM484.36 763.09h1.6v1.6h-1.6zM470.50 763.79h1.6v1.6h-1.6zM484.18 767.01h1.6v1.6h-1.6zM470.88 768.58h1.6v1.6h-1.6zM475.85 774.85h1.6v1.6h-1.6zM477.51 778.66h1.6v1.6h-1.6zM483.26 765.32h1.6v1.6h-1.6zM478.80 759.22h1.6v1.6h-1.6zM479.18 773.56h1.6v1.6h-1.6zM472.97 775.93h1.6v1.6h-1.6zM469.64 762.59h1.6v1.6h-1.6zM482.04 772.62h1.6v1.6h-1.6zM467.24 784.64h1.6v1.6h-1.6zM470.39 783.81h1.6v1.6h-1.6zM467.16 784.22h1.6v1.6h-1.6zM513.20 745.06h1.6v1.6h-1.6zM502.15 750.38h1.6v1.6h-1.6zM513.09 749.09h1.6v1.6h-1.6zM503.06 746.89h1.6v1.6h-1.6zM503.08 744.21h1.6v1.6h-1.6zM500.23 751.75h1.6v1.6h-1.6zM507.42 746.15h1.6v1.6h-1.6zM512.96 745.41h1.6v1.6h-1.6zM532.05 736.62h1.6v1.6h-1.6zM527.35 742.14h1.6v1.6h-1.6zM523.49 744.61h1.6v1.6h-1.6zM528.34 747.33h1.6v1.6h-1.6zM529.57 746.30h1.6v1.6h-1.6zM526.76 736.31h1.6v1.6h-1.6zM522.72 747.83h1.6v1.6h-1.6zM526.72 745.96h1.6v1.6h-1.6zM529.97 748.29h1.6v1.6h-1.6zM531.32 737.73h1.6v1.6h-1.6zM530.70 743.05h1.6v1.6h-1.6zM524.93 740.13h1.6v1.6h-1.6zM527.58 743.11h1.6v1.6h-1.6zM525.57 742.89h1.6v1.6h-1.6zM529.32 738.09h1.6v1.6h-1.6zM532.04 746.29h1.6v1.6h-1.6zM525.08 742.83h1.6v1.6h-1.6zM528.14 744.01h1.6v1.6h-1.6zM523.93 747.27h1.6v1.6h-1.6zM525.40 742.62h1.6v1.6h-1.6zM532.81 737.06h1.6v1.6h-1.6zM531.60 736.25h1.6v1.6h-1.6zM532.70 740.64h1.6v1.6h-1.6zM530.98 747.58h1.6v1.6h-1.6zM529.43 740.78h1.6v1.6h-1.6zM525.09 741.25h1.6v1.6h-1.6zM532.60 742.37h1.6v1.6h-1.6zM529.10 744.62h1.6v1.6h-1.6zM525.62 737.36h1.6v1.6h-1.6zM522.01 745.99h1.6v1.6h-1.6zM529.46 742.78h1.6v1.6h-1.6zM522.67 740.14h1.6v1.6h-1.6zM525.95 741.13h1.6v1.6h-1.6zM526.46 741.76h1.6v1.6h-1.6zM528.16 743.41h1.6v1.6h-1.6zM523.00 746.09h1.6v1.6h-1.6zM531.88 741.53h1.6v1.6h-1.6zM522.98 737.64h1.6v1.6h-1.6zM524.59 747.15h1.6v1.6h-1.6zM527.77 745.21h1.6v1.6h-1.6zM523.60 776.93h1.6v1.6h-1.6zM528.37 770.25h1.6v1.6h-1.6zM530.28 776.93h1.6v1.6h-1.6zM480.67 801.24h1.6v1.6h-1.6z" fill="#ff0000"/>
<text x="438.20" y="743.88" font-size="6.8" text-anchor="end" fill="#333">1</text>
<text x="438.20" y="762.95" font-size="6.8" text-anchor="end" fill="#333">0.8</text>
<text x="438.20" y="782.01" font-size="6.8" text-anchor="end" fill="#333">0.6</text>
<text x="438.20" y="801.08" font-size="6.8" text-anchor="end" fill="#333">0.4</text>
<text x="441.40" y="812.58" font-size="6.8" text-anchor="middle" fill="#333">-10</text>
<text x="489.10" y="812.58" font-size="6.8" text-anchor="middle" fill="#333">-5</text>
<text x="536.80" y="812.58" font-size="6.8" text-anchor="middle" fill="#333">0</text>
<text x="491.00" y="728.40" font-size="13" text-anchor="middle" textLength="72.5" lengthAdjust="spacingAndGlyphs">1st quadrant</text>
<text x="494.30" y="826.50" font-size="11.8" text-anchor="middle" textLength="105.3" lengthAdjust="spacingAndGlyphs">Connection strength</text>
<text x="500.00" y="842.30" font-size="11.8" text-anchor="middle" textLength="62.5" lengthAdjust="spacingAndGlyphs">(Right hemi.)</text>
<rect x="571.30" y="734.90" width="95.70" height="66.90" fill="none" stroke="#404040" stroke-width="1.4"/>
<path d="M570.30 801.80v-1.3M570.30 734.90v1.3M618.45 801.80v-1.3M618.45 734.90v1.3M666.60 801.80v-1.3M666.60 734.90v1.3M571.30 740.80h1.3M667.00 740.80h-1.3M571.30 771.50h1.3M667.00 771.50h-1.3M571.30 802.20h1.3M667.00 802.20h-1.3" stroke="#2a2a2a" stroke-width="0.6" fill="none"/>
<path d="M579.03 770.84h1.6v1.6h-1.6zM576.50 770.78h1.6v1.6h-1.6zM575.40 770.97h1.6v1.6h-1.6zM579.98 772.30h1.6v1.6h-1.6zM578.24 772.32h1.6v1.6h-1.6zM578.55 769.89h1.6v1.6h-1.6zM588.76 771.93h1.6v1.6h-1.6zM593.58 772.54h1.6v1.6h-1.6zM606.10 769.91h1.6v1.6h-1.6zM610.08 774.70h1.6v1.6h-1.6zM614.58 769.85h1.6v1.6h-1.6zM597.47 768.99h1.6v1.6h-1.6zM603.05 774.25h1.6v1.6h-1.6zM613.99 771.12h1.6v1.6h-1.6zM610.43 774.52h1.6v1.6h-1.6zM610.45 775.15h1.6v1.6h-1.6zM600.06 772.64h1.6v1.6h-1.6zM595.79 770.87h1.6v1.6h-1.6zM599.61 773.22h1.6v1.6h-1.6zM609.13 772.21h1.6v1.6h-1.6zM612.62 770.65h1.6v1.6h-1.6zM612.30 771.12h1.6v1.6h-1.6zM613.17 768.66h1.6v1.6h-1.6zM598.74 769.66h1.6v1.6h-1.6zM602.08 769.52h1.6v1.6h-1.6zM608.61 769.02h1.6v1.6h-1.6zM597.86 772.63h1.6v1.6h-1.6zM609.70 768.04h1.6v1.6h-1.6zM609.40 775.26h1.6v1.6h-1.6zM607.13 774.82h1.6v1.6h-1.6zM606.07 769.20h1.6v1.6h-1.6zM597.68 768.23h1.6v1.6h-1.6zM608.51 773.58h1.6v1.6h-1.6zM599.22 772.05h1.6v1.6h-1.6zM611.64 770.97h1.6v1.6h-1.6zM597.69 775.44h1.6v1.6h-1.6zM597.63 769.22h1.6v1.6h-1.6zM599.07 771.19h1.6v1.6h-1.6zM597.46 781.25h1.6v1.6h-1.6zM598.07 783.59h1.6v1.6h-1.6zM601.40 781.89h1.6v1.6h-1.6zM600.15 780.73h1.6v1.6h-1.6zM612.34 764.22h1.6v1.6h-1.6zM606.50 760.85h1.6v1.6h-1.6zM608.04 743.12h1.6v1.6h-1.6zM610.91 763.69h1.6v1.6h-1.6zM604.96 744.46h1.6v1.6h-1.6zM609.75 754.92h1.6v1.6h-1.6zM607.79 760.67h1.6v1.6h-1.6zM611.34 754.90h1.6v1.6h-1.6zM611.61 749.56h1.6v1.6h-1.6zM603.94 756.47h1.6v1.6h-1.6zM605.29 742.60h1.6v1.6h-1.6zM608.88 763.49h1.6v1.6h-1.6zM604.84 755.69h1.6v1.6h-1.6zM607.71 750.39h1.6v1.6h-1.6zM606.94 755.87h1.6v1.6h-1.6zM595.50 747.98h1.6v1.6h-1.6zM595.50 752.28h1.6v1.6h-1.6zM624.39 738.16h1.6v1.6h-1.6zM624.39 747.98h1.6v1.6h-1.6zM630.17 773.77h1.6v1.6h-1.6zM639.80 747.37h1.6v1.6h-1.6zM640.76 773.16h1.6v1.6h-1.6zM644.61 750.44h1.6v1.6h-1.6zM609.95 799.56h1.6v1.6h-1.6zM651.42 753.60h1.6v1.6h-1.6zM655.21 778.98h1.6v1.6h-1.6zM656.66 735.09h1.6v1.6h-1.6zM651.88 773.28h1.6v1.6h-1.6zM659.11 767.52h1.6v1.6h-1.6zM654.51 757.19h1.6v1.6h-1.6zM654.38 754.06h1.6v1.6h-1.6zM657.46 736.43h1.6v1.6h-1.6zM662.82 778.36h1.6v1.6h-1.6zM657.83 744.88h1.6v1.6h-1.6zM661.44 744.73h1.6v1.6h-1.6zM658.67 751.08h1.6v1.6h-1.6zM655.55 767.12h1.6v1.6h-1.6zM660.55 740.25h1.6v1.6h-1.6zM662.20 748.95h1.6v1.6h-1.6zM654.87 745.23h1.6v1.6h-1.6zM659.90 756.79h1.6v1.6h-1.6zM658.70 763.99h1.6v1.6h-1.6zM657.72 761.46h1.6v1.6h-1.6zM652.05 764.59h1.6v1.6h-1.6zM655.09 735.00h1.6v1.6h-1.6zM656.92 763.22h1.6v1.6h-1.6zM654.17 769.24h1.6v1.6h-1.6zM655.39 773.75h1.6v1.6h-1.6zM651.44 740.34h1.6v1.6h-1.6zM656.59 759.67h1.6v1.6h-1.6zM657.93 766.17h1.6v1.6h-1.6zM653.31 776.90h1.6v1.6h-1.6zM654.84 765.89h1.6v1.6h-1.6zM659.75 754.86h1.6v1.6h-1.6zM662.19 764.44h1.6v1.6h-1.6zM662.00 753.41h1.6v1.6h-1.6zM652.28 771.79h1.6v1.6h-1.6zM658.06 735.04h1.6v1.6h-1.6zM655.48 744.72h1.6v1.6h-1.6zM656.30 740.46h1.6v1.6h-1.6zM652.14 757.90h1.6v1.6h-1.6zM661.75 767.38h1.6v1.6h-1.6zM654.33 778.86h1.6v1.6h-1.6zM653.26 767.73h1.6v1.6h-1.6zM659.49 769.99h1.6v1.6h-1.6zM655.97 770.81h1.6v1.6h-1.6zM658.32 740.65h1.6v1.6h-1.6zM658.84 770.97h1.6v1.6h-1.6zM659.84 736.15h1.6v1.6h-1.6zM658.11 773.28h1.6v1.6h-1.6zM660.11 768.39h1.6v1.6h-1.6zM655.60 772.93h1.6v1.6h-1.6zM654.13 770.47h1.6v1.6h-1.6zM660.75 769.84h1.6v1.6h-1.6zM661.21 772.47h1.6v1.6h-1.6zM655.46 769.17h1.6v1.6h-1.6zM658.57 771.28h1.6v1.6h-1.6zM658.86 771.70h1.6v1.6h-1.6zM652.87 771.23h1.6v1.6h-1.6zM652.76 769.92h1.6v1.6h-1.6zM655.54 770.73h1.6v1.6h-1.6zM658.08 772.19h1.6v1.6h-1.6zM656.78 773.69h1.6v1.6h-1.6zM661.23 770.31h1.6v1.6h-1.6z" fill="#0000ff"/>
<text x="567.10" y="743.18" font-size="6.8" text-anchor="end" fill="#333">1.5</text>
<text x="567.10" y="773.88" font-size="6.8" text-anchor="end" fill="#333">1</text>
<text x="567.10" y="804.58" font-size="6.8" text-anchor="end" fill="#333">0.5</text>
<text x="570.30" y="812.58" font-size="6.8" text-anchor="middle" fill="#333">-10</text>
<text x="618.45" y="812.58" font-size="6.8" text-anchor="middle" fill="#333">-5</text>
<text x="666.60" y="812.58" font-size="6.8" text-anchor="middle" fill="#333">0</text>
<text x="621.80" y="727.70" font-size="13" text-anchor="middle" textLength="71.4" lengthAdjust="spacingAndGlyphs">3rd quadrant</text>
<text x="622.80" y="826.50" font-size="11.8" text-anchor="middle" textLength="105.4" lengthAdjust="spacingAndGlyphs">Connection strength</text>
<text x="631.20" y="840.70" font-size="11.8" text-anchor="middle" textLength="62.5" lengthAdjust="spacingAndGlyphs">(Right hemi.)</text>
<text x="3.50" y="32.50" font-size="17.5">a</text>
<text x="282.90" y="33.00" font-size="17.5">b</text>
<text x="3.50" y="204.90" font-size="17.5">c</text>
<text x="157.00" y="205.50" font-size="17.5">d</text>
<text x="286.00" y="204.50" font-size="17.5">e</text>
<text x="413.30" y="204.20" font-size="17.5">f</text>
<text x="536.90" y="205.00" font-size="17.5">g</text>
<text x="4.10" y="377.00" font-size="17.5">h</text>
<text x="158.40" y="376.50" font-size="17.5">i</text>
<text x="286.60" y="376.00" font-size="17.5">j</text>
<text x="411.60" y="376.50" font-size="17.5">k</text>
<text x="539.50" y="376.50" font-size="17.5">l</text>
<text x="4.10" y="549.40" font-size="17.5">m</text>
<text x="153.10" y="549.40" font-size="17.5">n</text>
<text x="287.10" y="549.50" font-size="17.5">o</text>
<text x="415.60" y="549.00" font-size="17.5">p</text>
<text x="539.40" y="549.00" font-size="17.5">q</text>
<text x="4.10" y="721.50" font-size="17.5">r</text>
<text x="155.70" y="722.00" font-size="17.5">s</text>
<text x="287.10" y="721.70" font-size="17.5">t</text>
<text x="417.70" y="722.10" font-size="17.5">u</text>
<text x="535.20" y="722.10" font-size="17.5">v</text>
<defs><linearGradient id="gUp" x1="145" y1="0" x2="256" y2="0" gradientUnits="userSpaceOnUse"><stop offset="0" stop-color="#fdfdd8"/><stop offset="0.12" stop-color="#fbfb60"/><stop offset="0.35" stop-color="#ffff10"/><stop offset="0.6" stop-color="#ffff30"/><stop offset="0.85" stop-color="#fcfc90"/><stop offset="1" stop-color="#fdfdc8"/></linearGradient><linearGradient id="gDn" x1="0" y1="122" x2="0" y2="170" gradientUnits="userSpaceOnUse"><stop offset="0" stop-color="#ffffff"/><stop offset="0.45" stop-color="#fcfc9a"/><stop offset="0.8" stop-color="#ffff30"/><stop offset="1" stop-color="#ffff10"/></linearGradient><radialGradient id="gBr" cx="200" cy="110" r="38" gradientUnits="userSpaceOnUse"><stop offset="0" stop-color="#eaeaea"/><stop offset="0.5" stop-color="#dadada"/><stop offset="0.8" stop-color="#bdbdbd"/><stop offset="1" stop-color="#8e8e8e"/></radialGradient></defs>
<path d="M147.83 97.5A55.5 55.5 0 0 1 246.78 84.37L254.7 83.4L249.9 100.5L231.7 89.2L239.44 89.22A46.7 46.7 0 0 0 157.20 97.5Z" fill="url(#gUp)" stroke="#bcbc90" stroke-width="0.6"/>
<path d="M146.06 125.8A55.5 55.5 0 0 0 255.13 124.8L246.16 124.8A46.7 46.7 0 0 1 155.07 125.8Z" fill="url(#gDn)" stroke="#dcdcb0" stroke-width="0.5"/>
<defs><linearGradient id="gBr2" x1="0" y1="95" x2="0" y2="133" gradientUnits="userSpaceOnUse"><stop offset="0" stop-color="#b4b4b4"/><stop offset="0.2" stop-color="#dedede"/><stop offset="0.45" stop-color="#e6e6e6"/><stop offset="0.7" stop-color="#d2d2d2"/><stop offset="0.9" stop-color="#a8a8a8"/><stop offset="1" stop-color="#8a8a8a"/></linearGradient><radialGradient id="gOb" cx="169" cy="112" r="11" gradientUnits="userSpaceOnUse"><stop offset="0" stop-color="#ececec"/><stop offset="0.7" stop-color="#d0d0d0"/><stop offset="1" stop-color="#9a9a9a"/></radialGradient><radialGradient id="gCb" cx="224" cy="108" r="14" gradientUnits="userSpaceOnUse"><stop offset="0" stop-color="#dcdcdc"/><stop offset="0.7" stop-color="#c4c4c4"/><stop offset="1" stop-color="#9a9a9a"/></radialGradient></defs>
<path d="M163.50 114.30C163.50 112.43 164.28 110.92 165.50 109.70C166.72 108.48 168.83 107.98 170.80 107.00C172.77 106.02 174.45 105.00 177.30 103.80C180.15 102.60 184.38 101.02 187.90 99.80C191.42 98.58 195.12 97.15 198.40 96.50C201.68 95.85 204.53 95.67 207.60 95.90C210.67 96.13 213.97 97.47 216.80 97.90C219.63 98.33 222.42 97.97 224.60 98.50C226.78 99.03 228.68 99.57 229.90 101.10C231.12 102.63 231.47 104.40 231.90 107.70C232.33 111.00 232.18 117.62 232.50 120.90C232.82 124.18 234.45 126.20 233.80 127.40C233.15 128.60 231.22 127.88 228.60 128.10C225.98 128.32 221.60 128.27 218.10 128.70C214.60 129.13 211.12 130.15 207.60 130.70C204.08 131.25 200.28 132.12 197.00 132.00C193.72 131.88 190.52 130.77 187.90 130.00C185.28 129.23 183.93 128.48 181.30 127.40C178.67 126.32 174.73 124.58 172.10 123.50C169.47 122.42 166.93 122.43 165.50 120.90C164.07 119.37 163.50 116.17 163.50 114.30Z" fill="url(#gBr2)" stroke="#7e7e7e" stroke-width="0.9"/>
<path d="M214.00 99.00C215.60 97.08 221.95 98.15 224.60 98.50C227.25 98.85 228.68 99.57 229.90 101.10C231.12 102.63 231.47 104.40 231.90 107.70C232.33 111.00 232.18 117.62 232.50 120.90C232.82 124.18 234.88 126.18 233.80 127.40C232.72 128.62 228.63 128.02 226.00 128.20C223.37 128.38 219.67 129.87 218.00 128.50C216.33 127.13 216.50 123.08 216.00 120.00C215.50 116.92 215.33 113.50 215.00 110.00C214.67 106.50 212.40 100.92 214.00 99.00Z" fill="url(#gCb)" stroke="none" opacity="0.55"/>
<path d="M163.50 114.30C163.50 112.43 164.28 110.92 165.50 109.70C166.72 108.48 169.13 107.37 170.80 107.00C172.47 106.63 174.38 106.50 175.50 107.50C176.62 108.50 177.33 110.92 177.50 113.00C177.67 115.08 177.40 118.25 176.50 120.00C175.60 121.75 173.93 123.35 172.10 123.50C170.27 123.65 166.93 122.43 165.50 120.90C164.07 119.37 163.50 116.17 163.50 114.30Z" fill="url(#gOb)" stroke="#8c8c8c" stroke-width="0.5"/>
<path d="M176 106C180 112 180 120 177 126M214.5 99C217 106 217 116 216.5 128.5M186 101C190 104 192 108 191 112M196 118C203 124 212 124 216 121M222 102C224 105 226 104 228 107M221 112C224 114 227 113 230 116M220 121C223 122 227 121 231 124M200 100C205 103 210 103 214 101M183 122C188 124 192 127 198 128" fill="none" stroke="#9a9a9a" stroke-width="0.6" opacity="0.85"/>
<ellipse cx="201" cy="106" rx="10" ry="4.5" fill="#f2f2f2" opacity="0.6"/>
<ellipse cx="205" cy="127" rx="14" ry="3" fill="#8a8a8a" opacity="0.25"/>
<text x="200.60" y="52.00" font-size="11.5" text-anchor="middle" font-weight="bold" textLength="17.0" lengthAdjust="spacingAndGlyphs">+1</text>
<text x="147.20" y="71.70" font-size="11.5" text-anchor="middle" font-weight="bold" textLength="8.6" lengthAdjust="spacingAndGlyphs">0</text>
<text x="253.00" y="72.40" font-size="11.5" text-anchor="middle" font-weight="bold" textLength="17.0" lengthAdjust="spacingAndGlyphs">+2</text>
<text x="144.80" y="117.70" font-size="11.5" text-anchor="middle" font-weight="bold" textLength="17.0" lengthAdjust="spacingAndGlyphs">+1</text>
<text x="256.20" y="118.20" font-size="11.5" text-anchor="middle" font-weight="bold" textLength="17.0" lengthAdjust="spacingAndGlyphs">+3</text>
<text x="148.50" y="170.00" font-size="11.5" text-anchor="middle" font-weight="bold" textLength="17.0" lengthAdjust="spacingAndGlyphs">+2</text>
<text x="254.70" y="167.60" font-size="11.5" text-anchor="middle" font-weight="bold" textLength="17.0" lengthAdjust="spacingAndGlyphs">+2</text>
<text x="201.70" y="186.60" font-size="11.5" text-anchor="middle" font-weight="bold" textLength="17.0" lengthAdjust="spacingAndGlyphs">+3</text>
<defs><radialGradient id="gH1" cx="530" cy="120" r="125" gradientUnits="userSpaceOnUse"><stop offset="0" stop-color="#fefdfd"/><stop offset="0.8" stop-color="#fdf9f9"/><stop offset="0.93" stop-color="#f9eef0"/><stop offset="1" stop-color="#f4e0e4"/></radialGradient><radialGradient id="gH2" cx="535" cy="108" r="100" gradientUnits="userSpaceOnUse"><stop offset="0" stop-color="#fefcfc"/><stop offset="0.7" stop-color="#fdf8f8"/><stop offset="0.88" stop-color="#faefef"/><stop offset="1" stop-color="#f5e0e3"/></radialGradient><linearGradient id="gLobe" x1="0" y1="0" x2="1" y2="1"><stop offset="0" stop-color="#e4a6b6"/><stop offset="1" stop-color="#f7dde3"/></linearGradient><linearGradient id="gTube" x1="0" y1="0" x2="1" y2="0"><stop offset="0" stop-color="#f2cdd6"/><stop offset="0.25" stop-color="#fbf1f3"/><stop offset="0.7" stop-color="#fcf4f5"/><stop offset="1" stop-color="#f0c6d0"/></linearGradient><filter id="blr" x="-0.2" y="-0.2" width="1.4" height="1.4"><feGaussianBlur stdDeviation="3"/></filter></defs>
<path d="M394.5 9H592V37H576L408 160V181H394.5Z" fill="#fafafc"/>
<clipPath id="cBg"><path d="M400 9H640V181.5H400Z"/></clipPath>
<defs><linearGradient id="gPe" x1="0" y1="75" x2="0" y2="180" gradientUnits="userSpaceOnUse"><stop offset="0" stop-color="#f7e1d7" stop-opacity="0"/><stop offset="0.35" stop-color="#f7e1d7" stop-opacity="0.45"/><stop offset="0.75" stop-color="#f6ddd2" stop-opacity="0.9"/><stop offset="1" stop-color="#f5dacf"/></linearGradient></defs>
<path d="M400 86L413 71L430 78L414 110L409 150L418 172L480 177L480 181.5L408 181.5L400 172Z" fill="url(#gPe)" clip-path="url(#cBg)"/>
<path d="M414.40 151.40C413.72 150.80 411.32 149.58 410.30 147.80C409.28 146.02 408.72 143.60 408.30 140.70C407.88 137.80 407.47 133.82 407.80 130.40C408.13 126.98 409.03 123.60 410.30 120.20C411.57 116.80 413.20 114.03 415.40 110.00C417.60 105.97 419.60 101.62 423.50 96.00C427.40 90.38 432.60 82.87 438.80 76.30C445.00 69.73 453.40 62.25 460.70 56.60C468.00 50.95 475.30 46.60 482.60 42.40C489.90 38.20 497.20 34.68 504.50 31.40C511.80 28.12 520.48 24.67 526.40 22.70C532.32 20.73 535.57 20.18 540.00 19.60C544.43 19.02 548.87 18.62 553.00 19.20C557.13 19.78 561.62 21.47 564.80 23.10C567.98 24.73 570.27 26.77 572.10 29.00C573.93 31.23 575.18 35.25 575.80 36.50L560 60L470 170L420 160Z" fill="url(#gH1)"/>
<path d="M414.40 151.40C413.72 150.80 411.32 149.58 410.30 147.80C409.28 146.02 408.72 143.60 408.30 140.70C407.88 137.80 407.47 133.82 407.80 130.40C408.13 126.98 409.03 123.60 410.30 120.20C411.57 116.80 413.20 114.03 415.40 110.00C417.60 105.97 419.60 101.62 423.50 96.00C427.40 90.38 432.60 82.87 438.80 76.30C445.00 69.73 453.40 62.25 460.70 56.60C468.00 50.95 475.30 46.60 482.60 42.40C489.90 38.20 497.20 34.68 504.50 31.40C511.80 28.12 520.48 24.67 526.40 22.70C532.32 20.73 535.57 20.18 540.00 19.60C544.43 19.02 548.87 18.62 553.00 19.20C557.13 19.78 561.62 21.47 564.80 23.10C567.98 24.73 570.27 26.77 572.10 29.00C573.93 31.23 575.18 35.25 575.80 36.50" fill="none" stroke="#f2d6dc" stroke-width="6" opacity="0.35" transform="translate(3 3)"/>
<path d="M414.40 151.40C413.72 150.80 411.32 149.58 410.30 147.80C409.28 146.02 408.72 143.60 408.30 140.70C407.88 137.80 407.47 133.82 407.80 130.40C408.13 126.98 409.03 123.60 410.30 120.20C411.57 116.80 413.20 114.03 415.40 110.00C417.60 105.97 419.60 101.62 423.50 96.00C427.40 90.38 432.60 82.87 438.80 76.30C445.00 69.73 453.40 62.25 460.70 56.60C468.00 50.95 475.30 46.60 482.60 42.40C489.90 38.20 497.20 34.68 504.50 31.40C511.80 28.12 520.48 24.67 526.40 22.70C532.32 20.73 535.57 20.18 540.00 19.60C544.43 19.02 548.87 18.62 553.00 19.20C557.13 19.78 561.62 21.47 564.80 23.10C567.98 24.73 570.27 26.77 572.10 29.00C573.93 31.23 575.18 35.25 575.80 36.50" fill="none" stroke="#111" stroke-width="1.9"/>
<path d="M414.40 151.40C413.22 152.50 408.75 155.87 407.30 158.00C405.85 160.13 405.20 162.92 405.70 164.20C406.20 165.48 408.68 165.88 410.30 165.70C411.92 165.52 413.43 164.12 415.40 163.10C417.37 162.08 420.62 161.20 422.10 159.60C423.58 158.00 423.93 154.52 424.30 153.50Z" fill="#f9e6ea" stroke="#111" stroke-width="1.5"/>
<path d="M422.60 159.60C421.40 160.37 417.10 162.58 415.40 164.20C413.70 165.82 412.57 167.77 412.40 169.30C412.23 170.83 412.87 172.63 414.40 173.40C415.93 174.17 418.87 174.05 421.60 173.90C424.33 173.75 429.27 172.73 430.80 172.50L428 166Z" fill="#f8dfe6" stroke="#111" stroke-width="1.5"/>
<path d="M424.10 153.90C423.87 150.67 423.87 147.10 424.30 143.70C424.73 140.30 425.45 137.07 426.70 133.50C427.95 129.93 429.77 126.22 431.80 122.30C433.83 118.38 436.63 113.28 438.90 110.00C441.17 106.72 441.77 106.38 445.40 102.60C449.03 98.82 454.50 92.78 460.70 87.30C466.90 81.82 475.30 74.82 482.60 69.70C489.90 64.58 497.20 60.43 504.50 56.60C511.80 52.77 519.65 49.25 526.40 46.70C533.15 44.15 539.73 42.70 545.00 41.30C550.27 39.90 552.75 39.02 558.00 38.30C563.25 37.58 571.47 36.97 576.50 37.00C581.53 37.03 585.12 37.75 588.20 38.50C591.28 39.25 592.63 39.70 595.00 41.50C597.37 43.30 599.80 46.25 602.40 49.30C605.00 52.35 608.07 55.92 610.60 59.80C613.13 63.68 615.77 68.53 617.60 72.60C619.43 76.67 620.73 80.52 621.60 84.20C622.47 87.88 622.70 91.22 622.80 94.70C622.90 98.18 622.68 101.43 622.20 105.10C621.72 108.77 620.87 113.22 619.90 116.70C618.93 120.18 617.95 122.70 616.40 126.00C614.85 129.30 612.38 133.33 610.60 136.50C608.82 139.67 608.27 142.27 605.70 145.00C603.13 147.73 599.58 150.28 595.20 152.90C590.82 155.52 585.32 158.63 579.40 160.70C573.48 162.77 566.27 164.08 559.70 165.30C553.13 166.52 544.95 167.20 540.00 168.00C535.05 168.80 534.17 169.33 530.00 170.10C525.83 170.87 520.00 171.87 515.00 172.60C510.00 173.33 505.00 173.97 500.00 174.50C495.00 175.03 490.00 175.50 485.00 175.80C480.00 176.10 475.00 176.30 470.00 176.30C465.00 176.30 460.00 176.25 455.00 175.80C450.00 175.35 444.03 174.52 440.00 173.60C435.97 172.68 433.18 172.05 430.80 170.30C428.42 168.55 426.82 165.83 425.70 163.10C424.58 160.37 424.33 157.13 424.10 153.90Z" fill="url(#gH2)"/>
<path d="M424.10 153.90C423.87 150.67 423.87 147.10 424.30 143.70C424.73 140.30 425.45 137.07 426.70 133.50C427.95 129.93 429.77 126.22 431.80 122.30C433.83 118.38 436.63 113.28 438.90 110.00C441.17 106.72 441.77 106.38 445.40 102.60C449.03 98.82 454.50 92.78 460.70 87.30C466.90 81.82 475.30 74.82 482.60 69.70C489.90 64.58 497.20 60.43 504.50 56.60C511.80 52.77 519.65 49.25 526.40 46.70C533.15 44.15 539.73 42.70 545.00 41.30C550.27 39.90 552.75 39.02 558.00 38.30C563.25 37.58 571.47 36.97 576.50 37.00C581.53 37.03 585.12 37.75 588.20 38.50C591.28 39.25 592.63 39.70 595.00 41.50C597.37 43.30 599.80 46.25 602.40 49.30C605.00 52.35 608.07 55.92 610.60 59.80C613.13 63.68 615.77 68.53 617.60 72.60C619.43 76.67 620.73 80.52 621.60 84.20C622.47 87.88 622.70 91.22 622.80 94.70C622.90 98.18 622.68 101.43 622.20 105.10C621.72 108.77 620.87 113.22 619.90 116.70C618.93 120.18 617.95 122.70 616.40 126.00C614.85 129.30 612.38 133.33 610.60 136.50C608.82 139.67 608.27 142.27 605.70 145.00C603.13 147.73 599.58 150.28 595.20 152.90C590.82 155.52 585.32 158.63 579.40 160.70C573.48 162.77 566.27 164.08 559.70 165.30C553.13 166.52 544.95 167.20 540.00 168.00C535.05 168.80 534.17 169.33 530.00 170.10C525.83 170.87 520.00 171.87 515.00 172.60C510.00 173.33 505.00 173.97 500.00 174.50C495.00 175.03 490.00 175.50 485.00 175.80C480.00 176.10 475.00 176.30 470.00 176.30C465.00 176.30 460.00 176.25 455.00 175.80C450.00 175.35 444.03 174.52 440.00 173.60C435.97 172.68 433.18 172.05 430.80 170.30C428.42 168.55 426.82 165.83 425.70 163.10C424.58 160.37 424.33 157.13 424.10 153.90Z" fill="none" stroke="#f1d5db" stroke-width="8" opacity="0.45" clip-path="url(#cF)"/>
<clipPath id="cF"><path d="M424.10 153.90C423.87 150.67 423.87 147.10 424.30 143.70C424.73 140.30 425.45 137.07 426.70 133.50C427.95 129.93 429.77 126.22 431.80 122.30C433.83 118.38 436.63 113.28 438.90 110.00C441.17 106.72 441.77 106.38 445.40 102.60C449.03 98.82 454.50 92.78 460.70 87.30C466.90 81.82 475.30 74.82 482.60 69.70C489.90 64.58 497.20 60.43 504.50 56.60C511.80 52.77 519.65 49.25 526.40 46.70C533.15 44.15 539.73 42.70 545.00 41.30C550.27 39.90 552.75 39.02 558.00 38.30C563.25 37.58 571.47 36.97 576.50 37.00C581.53 37.03 585.12 37.75 588.20 38.50C591.28 39.25 592.63 39.70 595.00 41.50C597.37 43.30 599.80 46.25 602.40 49.30C605.00 52.35 608.07 55.92 610.60 59.80C613.13 63.68 615.77 68.53 617.60 72.60C619.43 76.67 620.73 80.52 621.60 84.20C622.47 87.88 622.70 91.22 622.80 94.70C622.90 98.18 622.68 101.43 622.20 105.10C621.72 108.77 620.87 113.22 619.90 116.70C618.93 120.18 617.95 122.70 616.40 126.00C614.85 129.30 612.38 133.33 610.60 136.50C608.82 139.67 608.27 142.27 605.70 145.00C603.13 147.73 599.58 150.28 595.20 152.90C590.82 155.52 585.32 158.63 579.40 160.70C573.48 162.77 566.27 164.08 559.70 165.30C553.13 166.52 544.95 167.20 540.00 168.00C535.05 168.80 534.17 169.33 530.00 170.10C525.83 170.87 520.00 171.87 515.00 172.60C510.00 173.33 505.00 173.97 500.00 174.50C495.00 175.03 490.00 175.50 485.00 175.80C480.00 176.10 475.00 176.30 470.00 176.30C465.00 176.30 460.00 176.25 455.00 175.80C450.00 175.35 444.03 174.52 440.00 173.60C435.97 172.68 433.18 172.05 430.80 170.30C428.42 168.55 426.82 165.83 425.70 163.10C424.58 160.37 424.33 157.13 424.10 153.90Z"/></clipPath>
<path d="M424.10 153.90C423.87 150.67 423.87 147.10 424.30 143.70C424.73 140.30 425.45 137.07 426.70 133.50C427.95 129.93 429.77 126.22 431.80 122.30C433.83 118.38 436.63 113.28 438.90 110.00C441.17 106.72 441.77 106.38 445.40 102.60C449.03 98.82 454.50 92.78 460.70 87.30C466.90 81.82 475.30 74.82 482.60 69.70C489.90 64.58 497.20 60.43 504.50 56.60C511.80 52.77 519.65 49.25 526.40 46.70C533.15 44.15 539.73 42.70 545.00 41.30C550.27 39.90 552.75 39.02 558.00 38.30C563.25 37.58 571.47 36.97 576.50 37.00C581.53 37.03 585.12 37.75 588.20 38.50C591.28 39.25 592.63 39.70 595.00 41.50C597.37 43.30 599.80 46.25 602.40 49.30C605.00 52.35 608.07 55.92 610.60 59.80C613.13 63.68 615.77 68.53 617.60 72.60C619.43 76.67 620.73 80.52 621.60 84.20C622.47 87.88 622.70 91.22 622.80 94.70C622.90 98.18 622.68 101.43 622.20 105.10C621.72 108.77 620.87 113.22 619.90 116.70C618.93 120.18 617.95 122.70 616.40 126.00C614.85 129.30 612.38 133.33 610.60 136.50C608.82 139.67 608.27 142.27 605.70 145.00C603.13 147.73 599.58 150.28 595.20 152.90C590.82 155.52 585.32 158.63 579.40 160.70C573.48 162.77 566.27 164.08 559.70 165.30C553.13 166.52 544.95 167.20 540.00 168.00C535.05 168.80 534.17 169.33 530.00 170.10C525.83 170.87 520.00 171.87 515.00 172.60C510.00 173.33 505.00 173.97 500.00 174.50C495.00 175.03 490.00 175.50 485.00 175.80C480.00 176.10 475.00 176.30 470.00 176.30C465.00 176.30 460.00 176.25 455.00 175.80C450.00 175.35 444.03 174.52 440.00 173.60C435.97 172.68 433.18 172.05 430.80 170.30C428.42 168.55 426.82 165.83 425.70 163.10C424.58 160.37 424.33 157.13 424.10 153.90Z" fill="none" stroke="#141414" stroke-width="1.9"/>
<path d="M588.20 38.50C589.33 39.00 592.63 39.70 595.00 41.50C597.37 43.30 599.80 46.25 602.40 49.30C605.00 52.35 608.07 55.92 610.60 59.80C613.13 63.68 615.77 68.53 617.60 72.60C619.43 76.67 620.73 80.52 621.60 84.20C622.47 87.88 622.70 91.22 622.80 94.70C622.90 98.18 622.68 101.43 622.20 105.10C621.72 108.77 620.87 113.22 619.90 116.70C618.93 120.18 617.95 122.70 616.40 126.00C614.85 129.30 612.38 133.33 610.60 136.50C608.82 139.67 608.27 142.27 605.70 145.00C603.13 147.73 599.58 150.28 595.20 152.90C590.82 155.52 585.32 158.63 579.40 160.70C573.48 162.77 566.27 164.08 559.70 165.30C553.13 166.52 543.28 167.55 540.00 168.00" fill="none" stroke="#7a1030" stroke-width="1.6" opacity="0.85"/>
<path d="M488.5 81.7L553.1 71.2L559.7 91.5L506.2 100.7Z" fill="url(#gTube)" opacity="0.9"/>
<path d="M488.5 81.7C510 78 535 74 553.1 71.2M506.2 100.7C525 96 545 92 559.7 91.5" fill="none" stroke="#b77a88" stroke-width="0.6"/>
<path d="M526 119.8C545 117 565 112 584.7 109.3L596.5 128.3C580 128.5 560 133 529.9 144.1Z" fill="url(#gTube)" opacity="0.9"/>
<path d="M526 119.8C545 117 565 112 584.7 109.3M529.9 144.1C550 138 565 131 574.2 129C585 128.3 592 128.3 596.5 128.3" fill="none" stroke="#b77a88" stroke-width="0.6"/>
<path d="M491.8 88.2L476.7 116.5L510.8 152.6L519.4 136.2" fill="none" stroke="#3a1018" stroke-width="1.0"/>
<path d="M491.8 88.2C498 94 503 98 507.6 102C511 106 514 109 516.8 112.6C520 117 523 121 526 124.4" fill="none" stroke="#7a1e36" stroke-width="1.0"/>
<path d="M480.60 82.30C481.92 80.45 487.23 80.72 489.20 81.70C491.17 82.68 492.85 85.25 492.40 88.20C491.95 91.15 488.35 98.63 486.50 99.40C484.65 100.17 482.28 95.65 481.30 92.80C480.32 89.95 479.28 84.15 480.60 82.30Z" fill="url(#gLobe)" stroke="#7a1e36" stroke-width="0.6"/>
<path d="M498.4 91.5L506.2 102L502.3 99.4Z" fill="#f0c0cc"/>
<path d="M492.40 89.60C494.18 88.53 496.15 91.37 497.50 93.00C498.85 94.63 500.75 97.32 500.50 99.40C500.25 101.48 497.67 104.48 496.00 105.50C494.33 106.52 492.03 106.52 490.50 105.50C488.97 104.48 486.48 102.05 486.80 99.40C487.12 96.75 490.62 90.67 492.40 89.60Z" fill="#b8485f" stroke="#7a1e36" stroke-width="0.6"/>
<path d="M526.00 124.40C527.53 122.87 528.82 127.63 529.90 129.60C530.98 131.57 532.50 134.00 532.50 136.20C532.50 138.40 531.22 141.27 529.90 142.80C528.58 144.33 526.13 146.07 524.60 145.40C523.07 144.73 520.47 142.30 520.70 138.80C520.93 135.30 524.47 125.93 526.00 124.40Z" fill="#f8e4e8" stroke="#7a1e36" stroke-width="0.7"/>
<path d="M514.10 119.10C515.63 118.33 518.72 118.92 520.70 119.80C522.68 120.68 525.57 122.10 526.00 124.40C526.43 126.70 524.40 131.63 523.30 133.60C522.20 135.57 521.15 136.63 519.40 136.20C517.65 135.77 514.12 132.97 512.80 131.00C511.48 129.03 511.28 126.38 511.50 124.40C511.72 122.42 512.57 119.87 514.10 119.10Z" fill="#b8485f" stroke="#7a1e36" stroke-width="0.6"/>
<path d="M559.7 88.9L549.2 105.3L583.4 142.1L595.2 121.8" fill="none" stroke="#3a1018" stroke-width="1.0"/>
<path d="M563.7 77.1C575 88 588 103 597.8 115.2C602 120 606 124 609.6 128.3" fill="none" stroke="#7a1e36" stroke-width="1.0"/>
<path d="M583.4 142.1L574.2 128.3" fill="none" stroke="#7a1e36" stroke-width="0.7"/>
<path d="M553.10 71.20C554.73 69.88 560.43 72.02 562.30 73.10C564.17 74.18 564.73 75.07 564.30 77.70C563.87 80.33 560.90 86.70 559.70 88.90C558.50 91.10 558.30 92.22 557.10 90.90C555.90 89.58 553.17 84.28 552.50 81.00C551.83 77.72 551.47 72.52 553.10 71.20Z" fill="url(#gLobe)" stroke="#7a1e36" stroke-width="0.6"/>
<path d="M563.70 77.70C565.23 77.27 568.23 80.92 570.20 83.00C572.17 85.08 575.72 88.67 575.50 90.20C575.28 91.73 571.53 91.98 568.90 92.20C566.27 92.42 561.02 92.60 559.70 91.50C558.38 90.40 560.33 87.90 561.00 85.60C561.67 83.30 562.17 78.13 563.70 77.70Z" fill="#c0506a" stroke="#7a1e36" stroke-width="0.6"/>
<path d="M597.8 115.2L609.6 128.3L596.5 128.3Z" fill="#f7e0e5" stroke="#7a1e36" stroke-width="0.6"/>
<path d="M584.70 108.60C585.57 107.17 588.15 106.38 589.90 106.60C591.65 106.82 593.88 108.47 595.20 109.90C596.52 111.33 598.02 113.22 597.80 115.20C597.58 117.18 595.43 120.93 593.90 121.80C592.37 122.67 590.13 121.50 588.60 120.40C587.07 119.30 585.35 117.17 584.70 115.20C584.05 113.23 583.83 110.03 584.70 108.60Z" fill="#b8485f" stroke="#7a1e36" stroke-width="0.6"/>
<rect x="462.2" y="91.2" width="17.5" height="9.5" fill="#ffffff" opacity="0.9"/>
<text x="462.9" y="98.2" font-size="9.5" font-style="italic" font-family="Liberation Serif, serif" fill="#222">S<tspan font-size="6.65" dy="1.6">ak</tspan></text>
<rect x="518.7" y="73.8" width="18.4" height="11.8" fill="#ffffff" opacity="0.9"/>
<text x="519.4" y="82.6" font-size="9.5" font-style="italic" font-family="Liberation Serif, serif" fill="#222">W<tspan font-size="6.65" dy="1.6">kl</tspan></text>
<text x="563.0" y="70.4" font-size="9.5" font-style="italic" font-family="Liberation Serif, serif" fill="#222">S<tspan font-size="6.65" dy="1.6">bl</tspan></text>
<rect x="601" y="101.4" width="17.8" height="11.2" fill="#ffffff" opacity="0.9"/>
<text x="603.0" y="110.0" font-size="9.5" font-style="italic" font-family="Liberation Serif, serif" fill="#222">S<tspan font-size="6.65" dy="1.6">bj</tspan></text>
<rect x="547.9" y="126.4" width="19" height="11.1" fill="#ffffff" opacity="0.9"/>
<text x="549.9" y="135.3" font-size="9.5" font-style="italic" font-family="Liberation Serif, serif" fill="#222">W<tspan font-size="6.65" dy="1.6">ij</tspan></text>
<text x="521.4" y="157.0" font-size="9.5" font-style="italic" font-family="Liberation Serif, serif" fill="#222">S<tspan font-size="6.65" dy="1.6">ai</tspan></text>
<text x="487.8" y="102.0" font-size="7" font-style="italic" font-family="Liberation Serif, serif" fill="#3a0a16">s<tspan font-size="5" dy="0.8">ak</tspan></text>
<text x="512.4" y="129.4" font-size="7" font-style="italic" font-family="Liberation Serif, serif" fill="#3a0a16">s<tspan font-size="5" dy="0.8">ai</tspan></text>
<text x="561.0" y="89.0" font-size="7" font-style="italic" font-family="Liberation Serif, serif" fill="#3a0a16">s<tspan font-size="5" dy="0.8">bl</tspan></text>
<text x="585.6" y="115.8" font-size="7" font-style="italic" font-family="Liberation Serif, serif" fill="#3a0a16">s<tspan font-size="5" dy="0.8">bj</tspan></text>
<text x="481.90" y="120.30" font-size="9.4" fill="#333" textLength="27.6" lengthAdjust="spacingAndGlyphs">Slice A</text>
<text x="555.80" y="105.90" font-size="9.4" fill="#333" textLength="27.6" lengthAdjust="spacingAndGlyphs">Slice B</text>
<text x="38.00" y="33.70" font-size="15.5" textLength="96" lengthAdjust="spacingAndGlyphs">Relative angle</text>
<text x="315.40" y="34.90" font-size="17" textLength="144.6" lengthAdjust="spacingAndGlyphs">Connection Strength</text>
</svg>
</body></html>
